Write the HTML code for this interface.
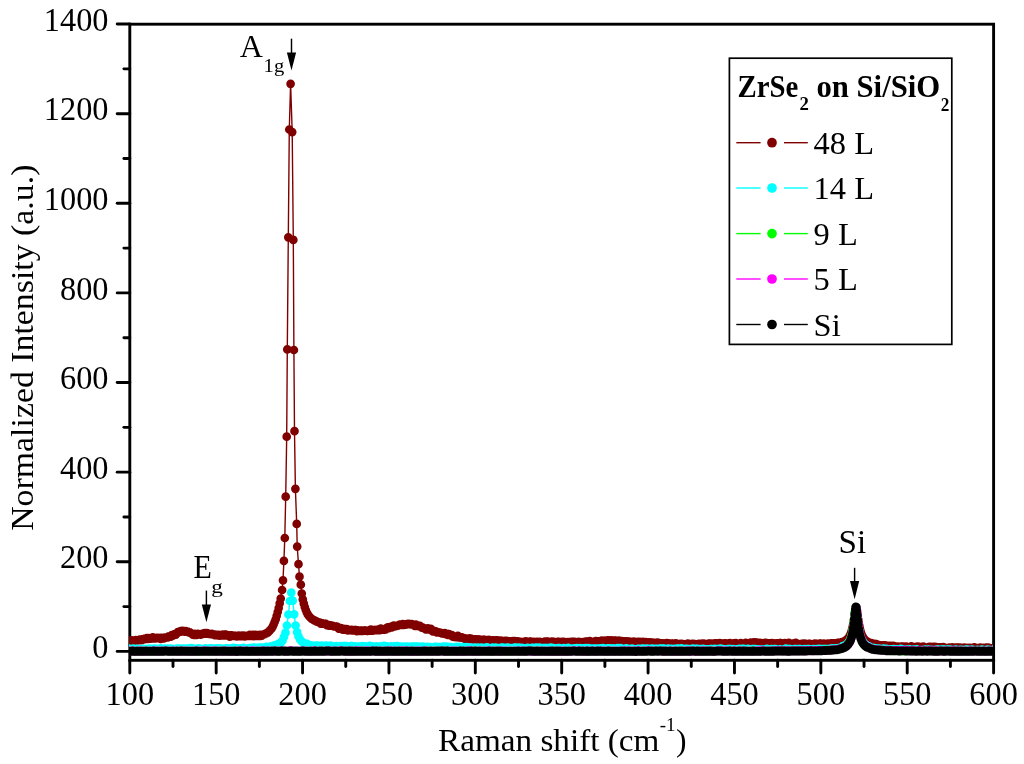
<!DOCTYPE html>
<html><head><meta charset="utf-8"><style>
html,body{margin:0;padding:0;background:#fff;width:1024px;height:764px;overflow:hidden}
svg{display:block;will-change:transform}
text{font-family:"Liberation Serif",serif;fill:#000}
</style></head><body>
<svg width="1024" height="764" viewBox="0 0 1024 764">
<rect width="1024" height="764" fill="#fff"/>
<defs><clipPath id="c"><rect x="129.0" y="24.2" width="864.0" height="636.1"/></clipPath></defs>
<rect x="129.8" y="24.2" width="863.8" height="636.1" fill="none" stroke="#000" stroke-width="2.9"/>
<line x1="117.2" y1="651.40" x2="129.8" y2="651.40" stroke="#000" stroke-width="2.9" stroke-linecap="round"/>
<line x1="123.9" y1="606.59" x2="129.8" y2="606.59" stroke="#000" stroke-width="2.9" stroke-linecap="round"/>
<line x1="117.2" y1="561.78" x2="129.8" y2="561.78" stroke="#000" stroke-width="2.9" stroke-linecap="round"/>
<line x1="123.9" y1="516.97" x2="129.8" y2="516.97" stroke="#000" stroke-width="2.9" stroke-linecap="round"/>
<line x1="117.2" y1="472.16" x2="129.8" y2="472.16" stroke="#000" stroke-width="2.9" stroke-linecap="round"/>
<line x1="123.9" y1="427.35" x2="129.8" y2="427.35" stroke="#000" stroke-width="2.9" stroke-linecap="round"/>
<line x1="117.2" y1="382.54" x2="129.8" y2="382.54" stroke="#000" stroke-width="2.9" stroke-linecap="round"/>
<line x1="123.9" y1="337.73" x2="129.8" y2="337.73" stroke="#000" stroke-width="2.9" stroke-linecap="round"/>
<line x1="117.2" y1="292.92" x2="129.8" y2="292.92" stroke="#000" stroke-width="2.9" stroke-linecap="round"/>
<line x1="123.9" y1="248.11" x2="129.8" y2="248.11" stroke="#000" stroke-width="2.9" stroke-linecap="round"/>
<line x1="117.2" y1="203.30" x2="129.8" y2="203.30" stroke="#000" stroke-width="2.9" stroke-linecap="round"/>
<line x1="123.9" y1="158.49" x2="129.8" y2="158.49" stroke="#000" stroke-width="2.9" stroke-linecap="round"/>
<line x1="117.2" y1="113.68" x2="129.8" y2="113.68" stroke="#000" stroke-width="2.9" stroke-linecap="round"/>
<line x1="123.9" y1="68.87" x2="129.8" y2="68.87" stroke="#000" stroke-width="2.9" stroke-linecap="round"/>
<line x1="117.2" y1="24.06" x2="129.8" y2="24.06" stroke="#000" stroke-width="2.9" stroke-linecap="round"/>
<line x1="129.80" y1="660.3" x2="129.80" y2="673.1" stroke="#000" stroke-width="2.9" stroke-linecap="round"/>
<line x1="172.99" y1="660.3" x2="172.99" y2="666.6" stroke="#000" stroke-width="2.9" stroke-linecap="round"/>
<line x1="216.18" y1="660.3" x2="216.18" y2="673.1" stroke="#000" stroke-width="2.9" stroke-linecap="round"/>
<line x1="259.37" y1="660.3" x2="259.37" y2="666.6" stroke="#000" stroke-width="2.9" stroke-linecap="round"/>
<line x1="302.56" y1="660.3" x2="302.56" y2="673.1" stroke="#000" stroke-width="2.9" stroke-linecap="round"/>
<line x1="345.75" y1="660.3" x2="345.75" y2="666.6" stroke="#000" stroke-width="2.9" stroke-linecap="round"/>
<line x1="388.94" y1="660.3" x2="388.94" y2="673.1" stroke="#000" stroke-width="2.9" stroke-linecap="round"/>
<line x1="432.13" y1="660.3" x2="432.13" y2="666.6" stroke="#000" stroke-width="2.9" stroke-linecap="round"/>
<line x1="475.32" y1="660.3" x2="475.32" y2="673.1" stroke="#000" stroke-width="2.9" stroke-linecap="round"/>
<line x1="518.51" y1="660.3" x2="518.51" y2="666.6" stroke="#000" stroke-width="2.9" stroke-linecap="round"/>
<line x1="561.70" y1="660.3" x2="561.70" y2="673.1" stroke="#000" stroke-width="2.9" stroke-linecap="round"/>
<line x1="604.89" y1="660.3" x2="604.89" y2="666.6" stroke="#000" stroke-width="2.9" stroke-linecap="round"/>
<line x1="648.08" y1="660.3" x2="648.08" y2="673.1" stroke="#000" stroke-width="2.9" stroke-linecap="round"/>
<line x1="691.27" y1="660.3" x2="691.27" y2="666.6" stroke="#000" stroke-width="2.9" stroke-linecap="round"/>
<line x1="734.46" y1="660.3" x2="734.46" y2="673.1" stroke="#000" stroke-width="2.9" stroke-linecap="round"/>
<line x1="777.65" y1="660.3" x2="777.65" y2="666.6" stroke="#000" stroke-width="2.9" stroke-linecap="round"/>
<line x1="820.84" y1="660.3" x2="820.84" y2="673.1" stroke="#000" stroke-width="2.9" stroke-linecap="round"/>
<line x1="864.03" y1="660.3" x2="864.03" y2="666.6" stroke="#000" stroke-width="2.9" stroke-linecap="round"/>
<line x1="907.22" y1="660.3" x2="907.22" y2="673.1" stroke="#000" stroke-width="2.9" stroke-linecap="round"/>
<line x1="950.41" y1="660.3" x2="950.41" y2="666.6" stroke="#000" stroke-width="2.9" stroke-linecap="round"/>
<line x1="993.60" y1="660.3" x2="993.60" y2="673.1" stroke="#000" stroke-width="2.9" stroke-linecap="round"/>
<g clip-path="url(#c)">
<path d="M126.8 641.2L127.8 641.2L128.8 640.9L129.8 640.6L130.8 640.7L131.8 640.4L132.8 640.7L133.8 641.2L134.8 640.3L135.8 640.1L136.8 640.5L137.8 640.4L138.8 640.2L139.8 639.6L140.8 639.9L141.8 640.1L142.8 639.0L143.8 639.3L144.8 638.5L145.8 638.6L146.8 638.2L147.8 638.8L148.8 638.2L149.8 638.7L150.8 638.7L151.8 638.5L152.8 637.4L153.8 638.3L154.8 638.5L155.8 638.5L156.8 637.8L157.8 638.2L158.8 638.0L159.8 638.0L160.8 638.8L161.8 637.8L162.8 638.0L163.8 638.3L164.8 637.5L165.8 637.6L166.8 637.5L167.8 637.4L168.8 636.4L169.8 636.6L170.8 636.7L171.8 635.0L172.8 635.7L173.8 634.9L174.8 634.0L175.8 634.6L176.8 633.5L177.8 632.0L178.8 632.0L179.8 631.8L180.8 631.2L181.8 631.4L182.8 630.8L183.8 631.0L184.8 631.7L185.8 631.0L186.8 631.7L187.8 631.7L188.8 632.4L189.8 632.3L190.8 633.1L191.8 633.7L192.8 634.7L193.8 635.0L194.8 633.9L195.8 634.3L196.8 635.0L197.8 633.9L198.8 634.4L199.8 634.3L200.8 634.7L201.8 634.2L202.8 633.5L203.8 633.3L204.8 633.1L205.8 633.7L206.8 633.0L207.8 633.4L208.8 633.9L209.8 634.0L210.8 634.1L211.8 633.8L212.8 634.4L213.8 634.3L214.8 635.2L215.8 635.0L216.8 634.8L217.8 635.3L218.8 634.9L219.8 635.6L220.8 635.2L221.8 635.5L222.8 634.7L223.8 635.5L224.8 634.7L225.8 634.5L226.8 635.4L227.8 635.1L228.8 635.7L229.8 636.6L230.8 635.3L231.8 635.4L232.8 635.9L233.8 636.0L234.8 635.8L235.8 635.8L236.8 636.3L237.8 636.2L238.8 635.6L239.8 636.1L240.8 636.1L241.8 635.6L242.8 636.1L243.8 635.6L244.8 636.4L245.8 636.0L246.8 635.9L247.8 635.6L248.8 635.8L249.8 634.9L250.8 635.3L251.8 635.9L252.8 634.8L253.8 636.1L254.8 634.9L255.8 636.0L256.8 635.2L257.8 635.9L258.8 635.6L259.8 634.8L260.8 635.8L261.8 635.6L262.8 634.7L263.8 634.3L264.8 634.1L265.7 633.7L266.7 633.2L267.7 632.6L268.7 631.7L269.7 630.6L270.7 629.5L271.7 628.3L272.7 626.6L273.7 624.3L274.7 621.8L275.7 619.3L276.7 615.8L277.7 612.0L278.7 608.1L279.7 603.3L280.7 598.6L282.1 590.0L283.0 580.3L283.9 560.9L284.8 538.0L285.7 496.7L286.7 436.7L287.3 349.4L288.3 237.3L289.3 129.5L290.6 83.8L292.2 132.1L293.3 239.9L293.9 350.0L294.5 431.2L295.4 488.8L296.7 523.9L297.2 546.6L298.5 564.2L299.5 576.7L300.8 584.7L301.8 593.5L302.8 599.4L303.8 603.6L304.8 607.1L305.8 610.0L306.8 612.5L307.8 614.4L308.8 615.8L309.8 617.0L310.8 618.0L311.8 618.8L312.8 619.5L313.8 620.1L314.8 620.6L315.8 621.1L316.8 621.6L317.8 622.0L318.8 622.4L319.8 622.5L320.8 623.6L321.8 623.1L322.8 623.6L323.8 623.6L324.8 623.9L325.8 623.9L326.8 625.2L327.8 624.8L328.8 625.6L329.8 625.4L330.8 625.3L331.8 625.7L332.8 625.8L333.8 626.3L334.8 626.4L335.8 626.7L336.8 626.6L337.8 627.1L338.8 628.6L339.8 627.8L340.8 628.0L341.8 628.9L342.8 629.7L343.8 628.8L344.8 629.6L345.8 629.6L346.8 629.1L347.8 630.3L348.8 630.0L349.8 630.1L350.8 629.8L351.8 630.5L352.8 630.1L353.8 630.3L354.8 630.0L355.8 630.0L356.8 631.2L357.8 630.4L358.8 630.8L359.8 630.8L360.8 630.6L361.8 630.5L362.8 631.0L363.8 630.5L364.8 630.5L365.8 630.6L366.8 631.0L367.8 630.8L368.8 630.6L369.8 630.1L370.8 629.7L371.8 630.7L372.8 630.6L373.8 630.0L374.8 630.2L375.8 630.2L376.8 630.1L377.8 630.0L378.8 629.3L379.8 630.1L380.8 628.7L381.8 629.6L382.8 629.3L383.8 629.3L384.8 629.7L385.8 629.3L386.8 627.8L387.8 627.3L388.8 628.2L389.8 627.1L390.8 627.3L391.8 627.4L392.8 626.1L393.8 625.6L394.8 626.4L395.8 626.1L396.8 625.7L397.8 625.6L398.8 625.0L399.8 624.6L400.8 625.0L401.8 624.5L402.8 624.1L403.8 624.9L404.8 624.5L405.8 624.6L406.8 624.0L407.8 624.1L408.8 623.9L409.8 624.0L410.8 624.5L411.8 624.0L412.8 624.7L413.8 625.0L414.8 626.0L415.8 624.7L416.8 625.9L417.8 625.7L418.8 626.1L419.8 625.9L420.8 626.7L421.8 627.7L422.8 627.7L423.8 628.2L424.8 628.3L425.8 629.3L426.8 629.0L427.8 628.4L428.8 629.4L429.8 629.1L430.8 628.8L431.8 630.4L432.8 631.5L433.8 631.2L434.8 631.0L435.8 631.3L436.8 632.5L437.8 632.3L438.8 632.4L439.8 632.6L440.8 632.9L441.8 633.4L442.8 633.5L443.8 633.6L444.8 633.2L445.8 634.2L446.8 633.8L447.8 634.9L448.8 634.2L449.8 635.0L450.8 635.3L451.8 635.0L452.8 636.7L453.8 636.9L454.8 636.3L455.8 637.1L456.8 637.1L457.8 635.9L458.8 637.4L459.8 637.4L460.8 637.7L461.8 637.3L462.8 637.9L463.8 638.1L464.8 638.9L465.8 638.7L466.8 638.7L467.8 639.4L468.8 638.6L469.8 638.7L470.8 638.5L471.8 639.5L472.8 639.5L473.8 639.5L474.8 639.5L475.8 639.4L476.8 639.6L477.8 639.5L478.8 639.6L479.8 639.7L480.8 640.2L481.8 640.0L482.8 639.9L483.8 639.8L484.8 639.8L485.8 640.6L486.8 640.3L487.8 640.2L488.8 640.2L489.8 640.0L490.8 640.4L491.8 640.7L492.8 640.4L493.8 640.5L494.8 640.6L495.8 640.8L496.8 640.3L497.8 640.7L498.8 640.6L499.8 641.2L500.8 640.7L501.8 641.2L502.8 641.5L503.8 641.0L504.8 640.9L505.8 641.2L506.8 641.2L507.8 641.0L508.8 641.4L509.8 642.0L510.8 641.3L511.8 641.4L512.8 641.2L513.8 641.6L514.8 641.2L515.8 641.3L516.8 642.0L517.8 641.4L518.8 642.1L519.8 642.2L520.8 641.9L521.8 642.0L522.8 642.4L523.8 641.8L524.8 641.7L525.8 641.4L526.8 641.9L527.8 642.3L528.8 642.2L529.8 641.6L530.8 641.6L531.8 641.8L532.8 642.0L533.8 641.9L534.8 642.0L535.8 642.0L536.8 641.9L537.8 642.0L538.8 642.0L539.8 642.0L540.8 642.2L541.8 642.6L542.8 642.2L543.8 642.0L544.8 641.5L545.8 642.2L546.8 641.5L547.8 641.6L548.8 642.3L549.8 642.3L550.8 642.1L551.8 641.6L552.8 642.0L553.8 641.9L554.8 642.3L555.8 642.8L556.8 642.2L557.8 641.9L558.8 641.8L559.8 642.1L560.8 642.1L561.8 641.8L562.8 642.2L563.8 641.8L564.8 642.5L565.8 642.5L566.8 642.5L567.8 642.1L568.8 642.4L569.8 642.2L570.8 642.1L571.8 642.1L572.8 641.9L573.8 641.8L574.8 642.5L575.8 642.2L576.8 642.3L577.8 642.6L578.8 641.8L579.8 642.1L580.8 642.3L581.8 642.3L582.8 642.0L583.8 642.4L584.8 642.1L585.8 641.6L586.8 641.7L587.8 642.1L588.8 642.0L589.8 641.2L590.8 642.2L591.8 641.9L592.8 642.1L593.8 641.5L594.8 641.5L595.8 641.2L596.8 642.2L597.8 641.3L598.8 641.8L599.8 641.1L600.8 641.3L601.8 640.7L602.8 641.0L603.8 641.3L604.8 640.6L605.8 641.2L606.8 640.9L607.8 640.4L608.8 640.5L609.8 640.5L610.8 640.6L611.8 640.6L612.8 640.5L613.8 640.8L614.8 640.6L615.8 640.6L616.8 641.0L617.8 641.4L618.8 640.7L619.8 641.3L620.8 641.1L621.8 641.1L622.8 641.7L623.8 641.3L624.8 642.0L625.8 641.3L626.8 641.7L627.8 641.6L628.8 641.5L629.8 642.0L630.8 641.8L631.8 642.1L632.8 641.9L633.8 641.7L634.8 642.0L635.8 642.1L636.8 642.4L637.8 641.9L638.8 642.2L639.8 641.8L640.8 642.5L641.8 642.1L642.8 641.9L643.8 642.5L644.8 642.9L645.8 642.1L646.8 642.3L647.8 642.5L648.8 642.4L649.8 642.9L650.8 642.6L651.8 642.7L652.8 643.1L653.8 642.8L654.8 643.2L655.8 642.8L656.8 642.8L657.8 642.7L658.8 643.8L659.8 643.2L660.8 643.4L661.8 643.4L662.8 643.5L663.8 643.5L664.8 644.2L665.8 643.3L666.8 643.2L667.8 643.4L668.8 643.4L669.8 644.1L670.8 644.1L671.8 643.7L672.8 643.6L673.8 643.9L674.8 644.5L675.8 643.3L676.8 644.4L677.8 643.9L678.8 644.6L679.8 644.0L680.8 644.3L681.8 643.9L682.8 644.0L683.8 644.7L684.8 644.6L685.8 644.2L686.8 644.0L687.8 643.7L688.8 644.1L689.8 644.2L690.8 644.2L691.8 644.2L692.8 643.8L693.8 644.1L694.8 644.1L695.8 644.5L696.8 644.7L697.8 644.1L698.8 643.9L699.8 644.1L700.8 643.9L701.8 643.8L702.8 644.0L703.8 643.7L704.8 644.2L705.8 644.0L706.8 644.0L707.8 643.9L708.8 643.7L709.8 643.6L710.8 643.8L711.8 643.7L712.8 643.9L713.8 643.9L714.8 643.4L715.8 643.8L716.8 643.4L717.8 643.6L718.8 643.7L719.8 643.1L720.8 643.8L721.8 643.8L722.8 643.7L723.8 643.6L724.8 643.6L725.8 643.4L726.8 643.6L727.8 643.5L728.8 643.6L729.8 643.2L730.8 643.6L731.8 643.6L732.8 643.5L733.8 643.4L734.8 643.7L735.8 643.0L736.8 643.6L737.8 643.5L738.8 643.5L739.8 643.5L740.8 643.2L741.8 643.3L742.8 643.5L743.8 643.5L744.8 643.4L745.8 642.8L746.8 643.4L747.8 643.6L748.8 643.5L749.8 643.3L750.8 642.7L751.8 643.5L752.8 643.1L753.8 642.4L754.8 643.2L755.8 642.7L756.8 642.7L757.8 642.9L758.8 643.4L759.8 642.9L760.8 643.1L761.8 643.6L762.8 643.6L763.8 643.1L764.8 643.1L765.8 642.8L766.8 643.0L767.8 643.3L768.8 643.3L769.8 643.3L770.8 643.5L771.8 643.0L772.8 643.3L773.8 643.5L774.8 643.5L775.8 643.7L776.8 643.5L777.8 643.3L778.8 643.5L779.8 643.1L780.8 643.0L781.8 643.6L782.8 643.5L783.8 643.6L784.8 643.0L785.8 643.4L786.8 643.4L787.8 643.3L788.8 642.9L789.8 643.5L790.8 643.9L791.8 643.8L792.8 643.5L793.8 643.7L794.8 643.9L795.8 642.9L796.8 643.7L797.8 643.9L798.8 644.0L799.8 644.3L800.8 644.1L801.8 643.9L802.8 643.9L803.8 644.1L804.8 643.7L805.8 643.9L806.8 644.2L807.8 644.5L808.8 643.9L809.8 643.9L810.8 644.0L811.8 644.4L812.8 644.0L813.8 644.4L814.8 643.7L815.8 643.9L816.8 643.9L817.8 644.2L818.8 644.3L819.8 643.5L820.8 643.7L821.8 644.1L822.8 643.8L823.8 643.5L824.8 644.3L825.8 644.1L826.8 644.1L827.8 643.7L828.8 644.2L829.8 643.7L830.8 644.1L831.8 643.4L832.8 643.4L833.8 643.6L834.8 643.3L835.8 643.6L836.8 643.3L837.8 642.8L838.8 643.0L839.8 642.6L840.8 642.8L841.8 642.0L842.8 641.8L843.3 642.1L843.8 642.2L844.3 641.3L844.8 641.0L845.3 640.7L845.8 640.4L846.3 640.0L846.8 639.6L847.3 639.1L847.8 638.6L848.3 638.0L848.8 637.4L849.3 636.6L849.8 635.7L850.3 634.7L850.8 633.5L851.3 632.1L851.8 630.4L852.3 628.4L852.8 626.0L853.3 623.3L853.8 620.1L854.3 616.6L854.8 613.1L855.3 610.1L855.8 608.3L856.3 608.1L856.8 609.7L857.3 612.5L857.8 616.0L858.3 619.6L858.8 622.9L859.3 625.7L859.8 628.2L860.3 630.3L860.8 632.1L861.3 633.5L861.8 634.8L862.3 635.9L862.8 636.9L863.3 637.7L863.8 638.4L864.3 639.1L864.8 639.6L865.3 640.1L865.8 640.6L866.3 641.0L866.8 641.4L867.3 641.7L867.8 642.0L868.3 642.9L868.8 642.5L869.3 642.8L869.8 643.4L870.3 643.1L871.3 643.2L872.3 643.8L873.3 644.2L874.3 644.0L875.3 644.0L876.3 644.2L877.3 645.0L878.3 644.8L879.3 645.1L880.3 645.3L881.3 645.5L882.3 645.4L883.3 645.7L884.3 645.4L885.3 645.6L886.3 645.5L887.3 646.2L888.3 646.0L889.3 645.8L890.3 646.0L891.3 646.1L892.3 646.4L893.3 645.8L894.3 646.0L895.3 646.3L896.3 647.2L897.3 646.8L898.3 646.5L899.3 646.8L900.3 647.3L901.3 646.6L902.3 646.6L903.3 647.1L904.3 646.9L905.3 647.0L906.3 646.7L907.3 647.4L908.3 647.4L909.3 647.1L910.3 647.1L911.3 646.3L912.3 647.2L913.3 646.9L914.3 647.2L915.3 647.3L916.3 647.0L917.3 646.6L918.3 647.2L919.3 646.9L920.3 647.1L921.3 647.0L922.3 647.1L923.3 646.5L924.3 647.6L925.3 647.3L926.3 647.6L927.3 647.9L928.3 647.3L929.3 646.8L930.3 647.1L931.3 647.0L932.3 647.2L933.3 647.4L934.3 646.8L935.3 647.6L936.3 647.0L937.3 647.6L938.3 647.5L939.3 647.4L940.3 647.5L941.3 647.4L942.3 647.4L943.3 647.1L944.3 647.6L945.3 648.2L946.3 648.3L947.3 648.1L948.3 647.9L949.3 647.5L950.3 648.2L951.3 647.7L952.3 647.7L953.3 647.7L954.3 647.8L955.3 647.7L956.3 647.8L957.3 647.5L958.3 647.7L959.3 648.5L960.3 647.8L961.3 647.8L962.3 648.0L963.3 648.1L964.3 647.6L965.3 647.8L966.3 648.2L967.3 648.0L968.3 648.0L969.3 648.4L970.3 647.8L971.3 648.0L972.3 647.8L973.3 648.4L974.3 647.4L975.3 647.8L976.3 647.9L977.3 648.2L978.3 648.2L979.3 648.5L980.3 647.6L981.3 648.3L982.3 648.0L983.3 647.9L984.3 648.3L985.3 647.9L986.3 647.5L987.3 648.0L988.3 647.7L989.3 648.0L990.3 648.3L991.3 648.3L992.3 648.7L993.3 648.2L994.3 647.8L995.3 648.0L996.3 648.0" fill="none" stroke="#800000" stroke-width="1.4" stroke-linejoin="round"/>
<path d="M126.8 641.2h0M127.8 641.2h0M128.8 640.9h0M129.8 640.6h0M130.8 640.7h0M131.8 640.4h0M132.8 640.7h0M133.8 641.2h0M134.8 640.3h0M135.8 640.1h0M136.8 640.5h0M137.8 640.4h0M138.8 640.2h0M139.8 639.6h0M140.8 639.9h0M141.8 640.1h0M142.8 639.0h0M143.8 639.3h0M144.8 638.5h0M145.8 638.6h0M146.8 638.2h0M147.8 638.8h0M148.8 638.2h0M149.8 638.7h0M150.8 638.7h0M151.8 638.5h0M152.8 637.4h0M153.8 638.3h0M154.8 638.5h0M155.8 638.5h0M156.8 637.8h0M157.8 638.2h0M158.8 638.0h0M159.8 638.0h0M160.8 638.8h0M161.8 637.8h0M162.8 638.0h0M163.8 638.3h0M164.8 637.5h0M165.8 637.6h0M166.8 637.5h0M167.8 637.4h0M168.8 636.4h0M169.8 636.6h0M170.8 636.7h0M171.8 635.0h0M172.8 635.7h0M173.8 634.9h0M174.8 634.0h0M175.8 634.6h0M176.8 633.5h0M177.8 632.0h0M178.8 632.0h0M179.8 631.8h0M180.8 631.2h0M181.8 631.4h0M182.8 630.8h0M183.8 631.0h0M184.8 631.7h0M185.8 631.0h0M186.8 631.7h0M187.8 631.7h0M188.8 632.4h0M189.8 632.3h0M190.8 633.1h0M191.8 633.7h0M192.8 634.7h0M193.8 635.0h0M194.8 633.9h0M195.8 634.3h0M196.8 635.0h0M197.8 633.9h0M198.8 634.4h0M199.8 634.3h0M200.8 634.7h0M201.8 634.2h0M202.8 633.5h0M203.8 633.3h0M204.8 633.1h0M205.8 633.7h0M206.8 633.0h0M207.8 633.4h0M208.8 633.9h0M209.8 634.0h0M210.8 634.1h0M211.8 633.8h0M212.8 634.4h0M213.8 634.3h0M214.8 635.2h0M215.8 635.0h0M216.8 634.8h0M217.8 635.3h0M218.8 634.9h0M219.8 635.6h0M220.8 635.2h0M221.8 635.5h0M222.8 634.7h0M223.8 635.5h0M224.8 634.7h0M225.8 634.5h0M226.8 635.4h0M227.8 635.1h0M228.8 635.7h0M229.8 636.6h0M230.8 635.3h0M231.8 635.4h0M232.8 635.9h0M233.8 636.0h0M234.8 635.8h0M235.8 635.8h0M236.8 636.3h0M237.8 636.2h0M238.8 635.6h0M239.8 636.1h0M240.8 636.1h0M241.8 635.6h0M242.8 636.1h0M243.8 635.6h0M244.8 636.4h0M245.8 636.0h0M246.8 635.9h0M247.8 635.6h0M248.8 635.8h0M249.8 634.9h0M250.8 635.3h0M251.8 635.9h0M252.8 634.8h0M253.8 636.1h0M254.8 634.9h0M255.8 636.0h0M256.8 635.2h0M257.8 635.9h0M258.8 635.6h0M259.8 634.8h0M260.8 635.8h0M261.8 635.6h0M262.8 634.7h0M263.8 634.3h0M264.8 634.1h0M265.7 633.7h0M266.7 633.2h0M267.7 632.6h0M268.7 631.7h0M269.7 630.6h0M270.7 629.5h0M271.7 628.3h0M272.7 626.6h0M273.7 624.3h0M274.7 621.8h0M275.7 619.3h0M276.7 615.8h0M277.7 612.0h0M278.7 608.1h0M279.7 603.3h0M280.7 598.6h0M282.1 590.0h0M283.0 580.3h0M283.9 560.9h0M284.8 538.0h0M285.7 496.7h0M286.7 436.7h0M287.3 349.4h0M288.3 237.3h0M289.3 129.5h0M290.6 83.8h0M292.2 132.1h0M293.3 239.9h0M293.9 350.0h0M294.5 431.2h0M295.4 488.8h0M296.7 523.9h0M297.2 546.6h0M298.5 564.2h0M299.5 576.7h0M300.8 584.7h0M301.8 593.5h0M302.8 599.4h0M303.8 603.6h0M304.8 607.1h0M305.8 610.0h0M306.8 612.5h0M307.8 614.4h0M308.8 615.8h0M309.8 617.0h0M310.8 618.0h0M311.8 618.8h0M312.8 619.5h0M313.8 620.1h0M314.8 620.6h0M315.8 621.1h0M316.8 621.6h0M317.8 622.0h0M318.8 622.4h0M319.8 622.5h0M320.8 623.6h0M321.8 623.1h0M322.8 623.6h0M323.8 623.6h0M324.8 623.9h0M325.8 623.9h0M326.8 625.2h0M327.8 624.8h0M328.8 625.6h0M329.8 625.4h0M330.8 625.3h0M331.8 625.7h0M332.8 625.8h0M333.8 626.3h0M334.8 626.4h0M335.8 626.7h0M336.8 626.6h0M337.8 627.1h0M338.8 628.6h0M339.8 627.8h0M340.8 628.0h0M341.8 628.9h0M342.8 629.7h0M343.8 628.8h0M344.8 629.6h0M345.8 629.6h0M346.8 629.1h0M347.8 630.3h0M348.8 630.0h0M349.8 630.1h0M350.8 629.8h0M351.8 630.5h0M352.8 630.1h0M353.8 630.3h0M354.8 630.0h0M355.8 630.0h0M356.8 631.2h0M357.8 630.4h0M358.8 630.8h0M359.8 630.8h0M360.8 630.6h0M361.8 630.5h0M362.8 631.0h0M363.8 630.5h0M364.8 630.5h0M365.8 630.6h0M366.8 631.0h0M367.8 630.8h0M368.8 630.6h0M369.8 630.1h0M370.8 629.7h0M371.8 630.7h0M372.8 630.6h0M373.8 630.0h0M374.8 630.2h0M375.8 630.2h0M376.8 630.1h0M377.8 630.0h0M378.8 629.3h0M379.8 630.1h0M380.8 628.7h0M381.8 629.6h0M382.8 629.3h0M383.8 629.3h0M384.8 629.7h0M385.8 629.3h0M386.8 627.8h0M387.8 627.3h0M388.8 628.2h0M389.8 627.1h0M390.8 627.3h0M391.8 627.4h0M392.8 626.1h0M393.8 625.6h0M394.8 626.4h0M395.8 626.1h0M396.8 625.7h0M397.8 625.6h0M398.8 625.0h0M399.8 624.6h0M400.8 625.0h0M401.8 624.5h0M402.8 624.1h0M403.8 624.9h0M404.8 624.5h0M405.8 624.6h0M406.8 624.0h0M407.8 624.1h0M408.8 623.9h0M409.8 624.0h0M410.8 624.5h0M411.8 624.0h0M412.8 624.7h0M413.8 625.0h0M414.8 626.0h0M415.8 624.7h0M416.8 625.9h0M417.8 625.7h0M418.8 626.1h0M419.8 625.9h0M420.8 626.7h0M421.8 627.7h0M422.8 627.7h0M423.8 628.2h0M424.8 628.3h0M425.8 629.3h0M426.8 629.0h0M427.8 628.4h0M428.8 629.4h0M429.8 629.1h0M430.8 628.8h0M431.8 630.4h0M432.8 631.5h0M433.8 631.2h0M434.8 631.0h0M435.8 631.3h0M436.8 632.5h0M437.8 632.3h0M438.8 632.4h0M439.8 632.6h0M440.8 632.9h0M441.8 633.4h0M442.8 633.5h0M443.8 633.6h0M444.8 633.2h0M445.8 634.2h0M446.8 633.8h0M447.8 634.9h0M448.8 634.2h0M449.8 635.0h0M450.8 635.3h0M451.8 635.0h0M452.8 636.7h0M453.8 636.9h0M454.8 636.3h0M455.8 637.1h0M456.8 637.1h0M457.8 635.9h0M458.8 637.4h0M459.8 637.4h0M460.8 637.7h0M461.8 637.3h0M462.8 637.9h0M463.8 638.1h0M464.8 638.9h0M465.8 638.7h0M466.8 638.7h0M467.8 639.4h0M468.8 638.6h0M469.8 638.7h0M470.8 638.5h0M471.8 639.5h0M472.8 639.5h0M473.8 639.5h0M474.8 639.5h0M475.8 639.4h0M476.8 639.6h0M477.8 639.5h0M478.8 639.6h0M479.8 639.7h0M480.8 640.2h0M481.8 640.0h0M482.8 639.9h0M483.8 639.8h0M484.8 639.8h0M485.8 640.6h0M486.8 640.3h0M487.8 640.2h0M488.8 640.2h0M489.8 640.0h0M490.8 640.4h0M491.8 640.7h0M492.8 640.4h0M493.8 640.5h0M494.8 640.6h0M495.8 640.8h0M496.8 640.3h0M497.8 640.7h0M498.8 640.6h0M499.8 641.2h0M500.8 640.7h0M501.8 641.2h0M502.8 641.5h0M503.8 641.0h0M504.8 640.9h0M505.8 641.2h0M506.8 641.2h0M507.8 641.0h0M508.8 641.4h0M509.8 642.0h0M510.8 641.3h0M511.8 641.4h0M512.8 641.2h0M513.8 641.6h0M514.8 641.2h0M515.8 641.3h0M516.8 642.0h0M517.8 641.4h0M518.8 642.1h0M519.8 642.2h0M520.8 641.9h0M521.8 642.0h0M522.8 642.4h0M523.8 641.8h0M524.8 641.7h0M525.8 641.4h0M526.8 641.9h0M527.8 642.3h0M528.8 642.2h0M529.8 641.6h0M530.8 641.6h0M531.8 641.8h0M532.8 642.0h0M533.8 641.9h0M534.8 642.0h0M535.8 642.0h0M536.8 641.9h0M537.8 642.0h0M538.8 642.0h0M539.8 642.0h0M540.8 642.2h0M541.8 642.6h0M542.8 642.2h0M543.8 642.0h0M544.8 641.5h0M545.8 642.2h0M546.8 641.5h0M547.8 641.6h0M548.8 642.3h0M549.8 642.3h0M550.8 642.1h0M551.8 641.6h0M552.8 642.0h0M553.8 641.9h0M554.8 642.3h0M555.8 642.8h0M556.8 642.2h0M557.8 641.9h0M558.8 641.8h0M559.8 642.1h0M560.8 642.1h0M561.8 641.8h0M562.8 642.2h0M563.8 641.8h0M564.8 642.5h0M565.8 642.5h0M566.8 642.5h0M567.8 642.1h0M568.8 642.4h0M569.8 642.2h0M570.8 642.1h0M571.8 642.1h0M572.8 641.9h0M573.8 641.8h0M574.8 642.5h0M575.8 642.2h0M576.8 642.3h0M577.8 642.6h0M578.8 641.8h0M579.8 642.1h0M580.8 642.3h0M581.8 642.3h0M582.8 642.0h0M583.8 642.4h0M584.8 642.1h0M585.8 641.6h0M586.8 641.7h0M587.8 642.1h0M588.8 642.0h0M589.8 641.2h0M590.8 642.2h0M591.8 641.9h0M592.8 642.1h0M593.8 641.5h0M594.8 641.5h0M595.8 641.2h0M596.8 642.2h0M597.8 641.3h0M598.8 641.8h0M599.8 641.1h0M600.8 641.3h0M601.8 640.7h0M602.8 641.0h0M603.8 641.3h0M604.8 640.6h0M605.8 641.2h0M606.8 640.9h0M607.8 640.4h0M608.8 640.5h0M609.8 640.5h0M610.8 640.6h0M611.8 640.6h0M612.8 640.5h0M613.8 640.8h0M614.8 640.6h0M615.8 640.6h0M616.8 641.0h0M617.8 641.4h0M618.8 640.7h0M619.8 641.3h0M620.8 641.1h0M621.8 641.1h0M622.8 641.7h0M623.8 641.3h0M624.8 642.0h0M625.8 641.3h0M626.8 641.7h0M627.8 641.6h0M628.8 641.5h0M629.8 642.0h0M630.8 641.8h0M631.8 642.1h0M632.8 641.9h0M633.8 641.7h0M634.8 642.0h0M635.8 642.1h0M636.8 642.4h0M637.8 641.9h0M638.8 642.2h0M639.8 641.8h0M640.8 642.5h0M641.8 642.1h0M642.8 641.9h0M643.8 642.5h0M644.8 642.9h0M645.8 642.1h0M646.8 642.3h0M647.8 642.5h0M648.8 642.4h0M649.8 642.9h0M650.8 642.6h0M651.8 642.7h0M652.8 643.1h0M653.8 642.8h0M654.8 643.2h0M655.8 642.8h0M656.8 642.8h0M657.8 642.7h0M658.8 643.8h0M659.8 643.2h0M660.8 643.4h0M661.8 643.4h0M662.8 643.5h0M663.8 643.5h0M664.8 644.2h0M665.8 643.3h0M666.8 643.2h0M667.8 643.4h0M668.8 643.4h0M669.8 644.1h0M670.8 644.1h0M671.8 643.7h0M672.8 643.6h0M673.8 643.9h0M674.8 644.5h0M675.8 643.3h0M676.8 644.4h0M677.8 643.9h0M678.8 644.6h0M679.8 644.0h0M680.8 644.3h0M681.8 643.9h0M682.8 644.0h0M683.8 644.7h0M684.8 644.6h0M685.8 644.2h0M686.8 644.0h0M687.8 643.7h0M688.8 644.1h0M689.8 644.2h0M690.8 644.2h0M691.8 644.2h0M692.8 643.8h0M693.8 644.1h0M694.8 644.1h0M695.8 644.5h0M696.8 644.7h0M697.8 644.1h0M698.8 643.9h0M699.8 644.1h0M700.8 643.9h0M701.8 643.8h0M702.8 644.0h0M703.8 643.7h0M704.8 644.2h0M705.8 644.0h0M706.8 644.0h0M707.8 643.9h0M708.8 643.7h0M709.8 643.6h0M710.8 643.8h0M711.8 643.7h0M712.8 643.9h0M713.8 643.9h0M714.8 643.4h0M715.8 643.8h0M716.8 643.4h0M717.8 643.6h0M718.8 643.7h0M719.8 643.1h0M720.8 643.8h0M721.8 643.8h0M722.8 643.7h0M723.8 643.6h0M724.8 643.6h0M725.8 643.4h0M726.8 643.6h0M727.8 643.5h0M728.8 643.6h0M729.8 643.2h0M730.8 643.6h0M731.8 643.6h0M732.8 643.5h0M733.8 643.4h0M734.8 643.7h0M735.8 643.0h0M736.8 643.6h0M737.8 643.5h0M738.8 643.5h0M739.8 643.5h0M740.8 643.2h0M741.8 643.3h0M742.8 643.5h0M743.8 643.5h0M744.8 643.4h0M745.8 642.8h0M746.8 643.4h0M747.8 643.6h0M748.8 643.5h0M749.8 643.3h0M750.8 642.7h0M751.8 643.5h0M752.8 643.1h0M753.8 642.4h0M754.8 643.2h0M755.8 642.7h0M756.8 642.7h0M757.8 642.9h0M758.8 643.4h0M759.8 642.9h0M760.8 643.1h0M761.8 643.6h0M762.8 643.6h0M763.8 643.1h0M764.8 643.1h0M765.8 642.8h0M766.8 643.0h0M767.8 643.3h0M768.8 643.3h0M769.8 643.3h0M770.8 643.5h0M771.8 643.0h0M772.8 643.3h0M773.8 643.5h0M774.8 643.5h0M775.8 643.7h0M776.8 643.5h0M777.8 643.3h0M778.8 643.5h0M779.8 643.1h0M780.8 643.0h0M781.8 643.6h0M782.8 643.5h0M783.8 643.6h0M784.8 643.0h0M785.8 643.4h0M786.8 643.4h0M787.8 643.3h0M788.8 642.9h0M789.8 643.5h0M790.8 643.9h0M791.8 643.8h0M792.8 643.5h0M793.8 643.7h0M794.8 643.9h0M795.8 642.9h0M796.8 643.7h0M797.8 643.9h0M798.8 644.0h0M799.8 644.3h0M800.8 644.1h0M801.8 643.9h0M802.8 643.9h0M803.8 644.1h0M804.8 643.7h0M805.8 643.9h0M806.8 644.2h0M807.8 644.5h0M808.8 643.9h0M809.8 643.9h0M810.8 644.0h0M811.8 644.4h0M812.8 644.0h0M813.8 644.4h0M814.8 643.7h0M815.8 643.9h0M816.8 643.9h0M817.8 644.2h0M818.8 644.3h0M819.8 643.5h0M820.8 643.7h0M821.8 644.1h0M822.8 643.8h0M823.8 643.5h0M824.8 644.3h0M825.8 644.1h0M826.8 644.1h0M827.8 643.7h0M828.8 644.2h0M829.8 643.7h0M830.8 644.1h0M831.8 643.4h0M832.8 643.4h0M833.8 643.6h0M834.8 643.3h0M835.8 643.6h0M836.8 643.3h0M837.8 642.8h0M838.8 643.0h0M839.8 642.6h0M840.8 642.8h0M841.8 642.0h0M842.8 641.8h0M843.3 642.1h0M843.8 642.2h0M844.3 641.3h0M844.8 641.0h0M845.3 640.7h0M845.8 640.4h0M846.3 640.0h0M846.8 639.6h0M847.3 639.1h0M847.8 638.6h0M848.3 638.0h0M848.8 637.4h0M849.3 636.6h0M849.8 635.7h0M850.3 634.7h0M850.8 633.5h0M851.3 632.1h0M851.8 630.4h0M852.3 628.4h0M852.8 626.0h0M853.3 623.3h0M853.8 620.1h0M854.3 616.6h0M854.8 613.1h0M855.3 610.1h0M855.8 608.3h0M856.3 608.1h0M856.8 609.7h0M857.3 612.5h0M857.8 616.0h0M858.3 619.6h0M858.8 622.9h0M859.3 625.7h0M859.8 628.2h0M860.3 630.3h0M860.8 632.1h0M861.3 633.5h0M861.8 634.8h0M862.3 635.9h0M862.8 636.9h0M863.3 637.7h0M863.8 638.4h0M864.3 639.1h0M864.8 639.6h0M865.3 640.1h0M865.8 640.6h0M866.3 641.0h0M866.8 641.4h0M867.3 641.7h0M867.8 642.0h0M868.3 642.9h0M868.8 642.5h0M869.3 642.8h0M869.8 643.4h0M870.3 643.1h0M871.3 643.2h0M872.3 643.8h0M873.3 644.2h0M874.3 644.0h0M875.3 644.0h0M876.3 644.2h0M877.3 645.0h0M878.3 644.8h0M879.3 645.1h0M880.3 645.3h0M881.3 645.5h0M882.3 645.4h0M883.3 645.7h0M884.3 645.4h0M885.3 645.6h0M886.3 645.5h0M887.3 646.2h0M888.3 646.0h0M889.3 645.8h0M890.3 646.0h0M891.3 646.1h0M892.3 646.4h0M893.3 645.8h0M894.3 646.0h0M895.3 646.3h0M896.3 647.2h0M897.3 646.8h0M898.3 646.5h0M899.3 646.8h0M900.3 647.3h0M901.3 646.6h0M902.3 646.6h0M903.3 647.1h0M904.3 646.9h0M905.3 647.0h0M906.3 646.7h0M907.3 647.4h0M908.3 647.4h0M909.3 647.1h0M910.3 647.1h0M911.3 646.3h0M912.3 647.2h0M913.3 646.9h0M914.3 647.2h0M915.3 647.3h0M916.3 647.0h0M917.3 646.6h0M918.3 647.2h0M919.3 646.9h0M920.3 647.1h0M921.3 647.0h0M922.3 647.1h0M923.3 646.5h0M924.3 647.6h0M925.3 647.3h0M926.3 647.6h0M927.3 647.9h0M928.3 647.3h0M929.3 646.8h0M930.3 647.1h0M931.3 647.0h0M932.3 647.2h0M933.3 647.4h0M934.3 646.8h0M935.3 647.6h0M936.3 647.0h0M937.3 647.6h0M938.3 647.5h0M939.3 647.4h0M940.3 647.5h0M941.3 647.4h0M942.3 647.4h0M943.3 647.1h0M944.3 647.6h0M945.3 648.2h0M946.3 648.3h0M947.3 648.1h0M948.3 647.9h0M949.3 647.5h0M950.3 648.2h0M951.3 647.7h0M952.3 647.7h0M953.3 647.7h0M954.3 647.8h0M955.3 647.7h0M956.3 647.8h0M957.3 647.5h0M958.3 647.7h0M959.3 648.5h0M960.3 647.8h0M961.3 647.8h0M962.3 648.0h0M963.3 648.1h0M964.3 647.6h0M965.3 647.8h0M966.3 648.2h0M967.3 648.0h0M968.3 648.0h0M969.3 648.4h0M970.3 647.8h0M971.3 648.0h0M972.3 647.8h0M973.3 648.4h0M974.3 647.4h0M975.3 647.8h0M976.3 647.9h0M977.3 648.2h0M978.3 648.2h0M979.3 648.5h0M980.3 647.6h0M981.3 648.3h0M982.3 648.0h0M983.3 647.9h0M984.3 648.3h0M985.3 647.9h0M986.3 647.5h0M987.3 648.0h0M988.3 647.7h0M989.3 648.0h0M990.3 648.3h0M991.3 648.3h0M992.3 648.7h0M993.3 648.2h0M994.3 647.8h0M995.3 648.0h0M996.3 648.0h0" fill="none" stroke="#800000" stroke-width="8.70" stroke-linecap="round"/>
<path d="M128.9 648.7L130.3 649.1L131.8 648.8L133.2 648.5L134.7 649.1L136.1 648.9L137.6 649.0L139.0 649.0L140.5 649.1L141.9 648.9L143.4 649.2L144.8 649.0L146.3 649.0L147.7 649.0L149.2 648.5L150.6 648.9L152.1 648.8L153.5 648.9L155.0 648.5L156.4 649.3L157.9 648.9L159.3 648.6L160.8 648.4L162.2 648.8L163.7 648.8L165.1 648.7L166.6 648.9L168.0 648.7L169.5 649.0L170.9 648.6L172.4 648.8L173.8 649.1L175.3 649.5L176.7 648.6L178.2 648.7L179.6 648.6L181.1 649.0L182.5 648.5L184.0 648.7L185.4 648.8L186.9 648.5L188.3 648.5L189.8 648.6L191.2 648.2L192.7 648.4L194.1 648.6L195.6 648.8L197.0 648.7L198.5 648.3L199.9 648.6L201.4 648.9L202.8 648.8L204.3 648.7L205.7 648.4L207.2 648.8L208.6 648.5L210.1 648.3L211.5 648.4L213.0 649.0L214.4 648.6L215.9 648.9L217.3 648.4L218.8 648.8L220.2 648.4L221.7 648.5L223.1 649.1L224.6 648.7L226.0 648.3L227.5 648.4L228.9 648.5L230.4 648.7L231.8 648.2L233.3 647.9L234.7 648.3L236.2 648.3L237.6 648.3L239.1 648.6L240.5 648.3L242.0 648.4L243.4 647.9L244.9 648.4L246.3 648.6L247.8 648.3L249.2 648.1L250.7 648.0L252.1 648.4L253.6 647.7L255.0 647.8L256.5 647.9L257.9 647.9L259.4 647.6L260.8 647.7L262.3 647.5L263.7 647.5L265.2 647.3L266.6 646.9L268.1 647.0L269.5 647.1L271.0 646.4L272.4 646.2L273.9 646.1L275.3 645.2L276.8 644.9L278.2 643.9L279.7 643.4L281.1 642.4L282.6 640.4L284.0 636.9L285.5 632.7L286.9 625.5L288.4 614.5L289.8 601.0L291.3 592.6L292.7 600.7L294.2 614.3L295.6 625.5L297.1 632.2L298.5 636.3L300.0 639.3L301.4 641.2L302.9 642.3L304.3 643.4L305.8 643.8L307.2 643.8L308.7 645.0L310.1 645.2L311.6 645.3L313.0 645.5L314.5 645.8L315.9 645.6L317.4 645.6L318.8 645.8L320.3 646.2L321.7 645.6L323.2 646.3L324.6 645.8L326.1 645.7L327.5 646.3L329.0 646.0L330.4 645.7L331.9 646.0L333.3 646.3L334.8 646.4L336.2 646.0L337.7 646.3L339.1 646.4L340.6 646.0L342.0 646.3L343.5 646.2L344.9 646.1L346.4 646.1L347.8 646.3L349.3 646.3L350.7 646.2L352.2 646.2L353.6 646.6L355.1 646.4L356.5 646.6L358.0 646.6L359.4 646.5L360.9 646.9L362.3 646.2L363.8 646.6L365.2 646.3L366.7 646.8L368.1 646.8L369.6 645.9L371.0 646.2L372.5 646.6L373.9 646.6L375.4 646.6L376.8 646.4L378.3 646.6L379.7 646.6L381.2 646.5L382.6 646.7L384.1 645.9L385.5 646.7L387.0 646.3L388.4 646.8L389.9 646.5L391.3 646.3L392.8 646.7L394.2 646.3L395.7 646.4L397.1 646.2L398.6 646.6L400.0 646.7L401.5 646.9L402.9 646.6L404.4 646.9L405.8 646.7L407.3 646.6L408.7 646.8L410.2 647.0L411.6 646.6L413.1 646.6L414.5 646.7L416.0 646.7L417.4 646.5L418.9 647.0L420.3 646.7L421.8 646.9L423.2 646.6L424.7 646.9L426.1 647.0L427.6 646.8L429.0 647.4L430.5 647.0L431.9 647.4L433.4 647.2L434.8 646.8L436.3 646.9L437.7 647.2L439.2 647.1L440.6 647.1L442.1 647.1L443.5 646.7L445.0 647.1L446.4 646.7L447.9 647.3L449.3 647.1L450.8 647.1L452.2 647.3L453.7 647.4L455.1 647.0L456.6 646.9L458.0 647.1L459.5 646.9L460.9 647.2L462.4 647.9L463.8 647.2L465.3 647.7L466.7 647.2L468.2 647.7L469.6 647.5L471.1 647.6L472.5 647.8L474.0 648.1L475.4 647.7L476.9 647.8L478.3 647.5L479.8 647.9L481.2 647.7L482.7 648.0L484.1 647.8L485.6 648.2L487.0 647.3L488.5 647.8L489.9 648.1L491.4 647.8L492.8 647.7L494.3 647.8L495.7 647.5L497.2 647.9L498.6 648.5L500.1 648.2L501.5 647.6L503.0 647.7L504.4 647.8L505.9 648.2L507.3 647.7L508.8 647.8L510.2 648.2L511.7 648.2L513.1 647.9L514.6 647.7L516.0 647.6L517.5 647.8L518.9 647.5L520.4 648.2L521.8 647.9L523.3 648.2L524.7 648.5L526.2 648.4L527.6 647.8L529.1 648.3L530.5 648.4L532.0 647.9L533.4 647.9L534.9 648.1L536.3 647.7L537.8 648.5L539.2 647.5L540.7 647.9L542.1 648.1L543.6 648.1L545.0 648.2L546.5 648.2L547.9 648.1L549.4 648.5L550.8 647.7L552.3 648.2L553.7 648.0L555.2 648.3L556.6 648.3L558.1 648.0L559.5 648.1L561.0 648.5L562.4 648.4L563.9 648.1L565.3 648.8L566.8 648.9L568.2 647.9L569.7 648.4L571.1 649.0L572.6 648.5L574.0 648.4L575.5 648.3L576.9 648.2L578.4 648.3L579.8 648.2L581.3 648.6L582.7 648.3L584.2 648.3L585.6 648.1L587.1 648.4L588.5 648.2L590.0 648.4L591.4 648.7L592.9 648.6L594.3 648.6L595.8 648.6L597.2 648.5L598.7 648.5L600.1 648.4L601.6 648.7L603.0 648.2L604.5 648.9L605.9 648.5L607.4 648.4L608.9 648.4L610.3 648.4L611.8 648.6L613.2 648.4L614.7 648.9L616.1 648.4L617.6 648.0L619.0 648.4L620.5 648.1L621.9 648.6L623.4 648.9L624.8 648.8L626.3 648.3L627.7 648.5L629.2 649.1L630.6 648.8L632.1 648.7L633.5 649.0L635.0 649.3L636.4 649.0L637.9 648.8L639.3 648.8L640.8 648.9L642.2 648.6L643.7 648.5L645.1 648.8L646.6 648.5L648.0 648.8L649.5 648.8L650.9 649.4L652.4 648.6L653.8 648.8L655.3 648.8L656.7 648.9L658.2 649.1L659.6 648.7L661.1 648.7L662.5 648.5L664.0 648.6L665.4 649.0L666.9 648.9L668.3 648.7L669.8 648.8L671.2 648.9L672.7 649.1L674.1 648.8L675.6 648.9L677.0 648.5L678.5 648.7L679.9 649.4L681.4 648.4L682.8 648.9L684.3 649.0L685.7 648.9L687.2 648.8L688.6 649.0L690.1 649.0L691.5 649.0L693.0 648.6L694.4 649.0L695.9 648.8L697.3 648.9L698.8 649.1L700.2 649.2L701.7 649.3L703.1 648.9L704.6 649.3L706.0 649.4L707.5 649.4L708.9 649.4L710.4 649.1L711.8 649.1L713.3 649.3L714.7 648.8L716.2 649.2L717.6 649.0L719.1 649.0L720.5 648.7L722.0 648.9L723.4 649.1L724.9 649.4L726.3 649.4L727.8 649.1L729.2 649.1L730.7 649.0L732.1 649.3L733.6 649.1L735.0 649.3L736.5 649.6L737.9 649.2L739.4 648.8L740.8 649.0L742.3 648.8L743.7 648.9L745.2 649.5L746.6 649.3L748.1 648.8L749.5 649.4L751.0 649.5L752.4 649.1L753.9 649.1L755.3 649.2L756.8 649.3L758.2 649.4L759.7 649.5L761.1 649.6L762.6 649.6L764.0 649.6L765.5 649.4L766.9 648.9L768.4 649.2L769.8 649.4L771.3 649.2L772.7 649.5L774.2 649.2L775.6 649.1L777.1 649.7L778.5 649.5L780.0 649.3L781.4 649.5L782.9 649.6L784.3 649.4L785.8 648.7L787.2 649.1L788.7 649.2L790.1 649.1L791.6 649.3L793.0 649.6L794.5 649.2L795.9 649.0L797.4 649.8L798.8 649.2L800.3 649.0L801.7 649.3L803.2 649.4L804.6 649.1L806.1 649.5L807.5 649.1L809.0 649.0L810.4 649.3L811.9 649.4L813.3 649.0L814.8 649.3L816.2 649.1L817.7 649.8L819.1 648.9L820.6 649.4L822.0 649.0L823.5 649.0L824.9 649.1L826.4 649.1L827.8 649.1L829.3 648.8L830.7 648.5L832.2 648.4L833.6 648.5L835.1 648.4L836.5 648.4L838.0 648.0L839.4 647.8L840.9 647.6L842.3 646.8L842.8 646.2L843.3 646.1L843.8 645.8L844.3 645.9L844.8 645.6L845.3 645.3L845.8 645.0L846.3 644.6L846.8 644.2L847.3 643.8L847.8 643.2L848.3 642.7L848.8 642.0L849.3 641.2L849.8 640.3L850.3 639.3L850.8 638.1L851.3 636.6L851.8 634.9L852.3 632.7L852.8 630.1L853.3 627.0L853.8 623.2L854.3 618.7L854.8 614.0L855.3 609.9L855.8 607.5L856.3 607.8L856.8 610.7L857.3 615.0L857.8 619.7L858.3 624.0L858.8 627.7L859.3 630.7L859.8 633.2L860.3 635.3L860.8 637.0L861.3 638.4L861.8 639.5L862.3 640.6L862.8 641.4L863.3 642.2L863.8 642.8L864.3 643.4L864.8 643.9L865.3 644.4L865.8 644.8L866.3 645.2L866.8 645.5L867.3 645.8L867.8 646.1L868.3 646.7L868.8 646.3L869.3 647.0L869.8 647.1L870.3 647.5L871.8 647.7L873.2 647.8L874.7 648.1L876.1 648.3L877.6 648.5L879.0 648.5L880.5 648.8L881.9 649.3L883.4 648.6L884.8 649.1L886.3 648.9L887.7 649.3L889.2 649.5L890.6 649.3L892.1 649.6L893.5 649.0L895.0 649.7L896.4 649.3L897.9 649.7L899.3 649.6L900.8 648.9L902.2 649.4L903.7 649.7L905.1 650.0L906.6 649.7L908.0 649.7L909.5 649.3L910.9 650.1L912.4 650.2L913.8 649.7L915.3 649.7L916.7 649.4L918.2 650.0L919.6 650.5L921.1 650.0L922.5 650.1L924.0 649.9L925.4 649.6L926.9 650.2L928.3 649.5L929.8 649.8L931.2 649.9L932.7 650.1L934.1 650.0L935.6 650.0L937.0 649.7L938.5 649.6L939.9 649.9L941.4 649.7L942.8 649.6L944.3 649.6L945.7 649.8L947.2 649.5L948.6 649.6L950.1 649.5L951.5 650.0L953.0 650.0L954.4 650.4L955.9 649.6L957.3 649.8L958.8 650.2L960.2 649.9L961.7 649.9L963.1 650.4L964.6 649.9L966.0 649.7L967.5 649.7L968.9 650.1L970.4 650.1L971.8 649.7L973.3 649.8L974.7 650.1L976.2 650.2L977.6 649.9L979.1 650.2L980.5 650.2L982.0 649.6L983.4 650.0L984.9 650.1L986.3 649.9L987.8 649.5L989.2 650.0L990.7 650.2L992.1 650.4L993.6 649.5L995.0 650.7L996.5 649.8" fill="none" stroke="#00ffff" stroke-width="1.4" stroke-linejoin="round"/>
<path d="M128.9 648.7h0M130.3 649.1h0M131.8 648.8h0M133.2 648.5h0M134.7 649.1h0M136.1 648.9h0M137.6 649.0h0M139.0 649.0h0M140.5 649.1h0M141.9 648.9h0M143.4 649.2h0M144.8 649.0h0M146.3 649.0h0M147.7 649.0h0M149.2 648.5h0M150.6 648.9h0M152.1 648.8h0M153.5 648.9h0M155.0 648.5h0M156.4 649.3h0M157.9 648.9h0M159.3 648.6h0M160.8 648.4h0M162.2 648.8h0M163.7 648.8h0M165.1 648.7h0M166.6 648.9h0M168.0 648.7h0M169.5 649.0h0M170.9 648.6h0M172.4 648.8h0M173.8 649.1h0M175.3 649.5h0M176.7 648.6h0M178.2 648.7h0M179.6 648.6h0M181.1 649.0h0M182.5 648.5h0M184.0 648.7h0M185.4 648.8h0M186.9 648.5h0M188.3 648.5h0M189.8 648.6h0M191.2 648.2h0M192.7 648.4h0M194.1 648.6h0M195.6 648.8h0M197.0 648.7h0M198.5 648.3h0M199.9 648.6h0M201.4 648.9h0M202.8 648.8h0M204.3 648.7h0M205.7 648.4h0M207.2 648.8h0M208.6 648.5h0M210.1 648.3h0M211.5 648.4h0M213.0 649.0h0M214.4 648.6h0M215.9 648.9h0M217.3 648.4h0M218.8 648.8h0M220.2 648.4h0M221.7 648.5h0M223.1 649.1h0M224.6 648.7h0M226.0 648.3h0M227.5 648.4h0M228.9 648.5h0M230.4 648.7h0M231.8 648.2h0M233.3 647.9h0M234.7 648.3h0M236.2 648.3h0M237.6 648.3h0M239.1 648.6h0M240.5 648.3h0M242.0 648.4h0M243.4 647.9h0M244.9 648.4h0M246.3 648.6h0M247.8 648.3h0M249.2 648.1h0M250.7 648.0h0M252.1 648.4h0M253.6 647.7h0M255.0 647.8h0M256.5 647.9h0M257.9 647.9h0M259.4 647.6h0M260.8 647.7h0M262.3 647.5h0M263.7 647.5h0M265.2 647.3h0M266.6 646.9h0M268.1 647.0h0M269.5 647.1h0M271.0 646.4h0M272.4 646.2h0M273.9 646.1h0M275.3 645.2h0M276.8 644.9h0M278.2 643.9h0M279.7 643.4h0M281.1 642.4h0M282.6 640.4h0M284.0 636.9h0M285.5 632.7h0M286.9 625.5h0M288.4 614.5h0M289.8 601.0h0M291.3 592.6h0M292.7 600.7h0M294.2 614.3h0M295.6 625.5h0M297.1 632.2h0M298.5 636.3h0M300.0 639.3h0M301.4 641.2h0M302.9 642.3h0M304.3 643.4h0M305.8 643.8h0M307.2 643.8h0M308.7 645.0h0M310.1 645.2h0M311.6 645.3h0M313.0 645.5h0M314.5 645.8h0M315.9 645.6h0M317.4 645.6h0M318.8 645.8h0M320.3 646.2h0M321.7 645.6h0M323.2 646.3h0M324.6 645.8h0M326.1 645.7h0M327.5 646.3h0M329.0 646.0h0M330.4 645.7h0M331.9 646.0h0M333.3 646.3h0M334.8 646.4h0M336.2 646.0h0M337.7 646.3h0M339.1 646.4h0M340.6 646.0h0M342.0 646.3h0M343.5 646.2h0M344.9 646.1h0M346.4 646.1h0M347.8 646.3h0M349.3 646.3h0M350.7 646.2h0M352.2 646.2h0M353.6 646.6h0M355.1 646.4h0M356.5 646.6h0M358.0 646.6h0M359.4 646.5h0M360.9 646.9h0M362.3 646.2h0M363.8 646.6h0M365.2 646.3h0M366.7 646.8h0M368.1 646.8h0M369.6 645.9h0M371.0 646.2h0M372.5 646.6h0M373.9 646.6h0M375.4 646.6h0M376.8 646.4h0M378.3 646.6h0M379.7 646.6h0M381.2 646.5h0M382.6 646.7h0M384.1 645.9h0M385.5 646.7h0M387.0 646.3h0M388.4 646.8h0M389.9 646.5h0M391.3 646.3h0M392.8 646.7h0M394.2 646.3h0M395.7 646.4h0M397.1 646.2h0M398.6 646.6h0M400.0 646.7h0M401.5 646.9h0M402.9 646.6h0M404.4 646.9h0M405.8 646.7h0M407.3 646.6h0M408.7 646.8h0M410.2 647.0h0M411.6 646.6h0M413.1 646.6h0M414.5 646.7h0M416.0 646.7h0M417.4 646.5h0M418.9 647.0h0M420.3 646.7h0M421.8 646.9h0M423.2 646.6h0M424.7 646.9h0M426.1 647.0h0M427.6 646.8h0M429.0 647.4h0M430.5 647.0h0M431.9 647.4h0M433.4 647.2h0M434.8 646.8h0M436.3 646.9h0M437.7 647.2h0M439.2 647.1h0M440.6 647.1h0M442.1 647.1h0M443.5 646.7h0M445.0 647.1h0M446.4 646.7h0M447.9 647.3h0M449.3 647.1h0M450.8 647.1h0M452.2 647.3h0M453.7 647.4h0M455.1 647.0h0M456.6 646.9h0M458.0 647.1h0M459.5 646.9h0M460.9 647.2h0M462.4 647.9h0M463.8 647.2h0M465.3 647.7h0M466.7 647.2h0M468.2 647.7h0M469.6 647.5h0M471.1 647.6h0M472.5 647.8h0M474.0 648.1h0M475.4 647.7h0M476.9 647.8h0M478.3 647.5h0M479.8 647.9h0M481.2 647.7h0M482.7 648.0h0M484.1 647.8h0M485.6 648.2h0M487.0 647.3h0M488.5 647.8h0M489.9 648.1h0M491.4 647.8h0M492.8 647.7h0M494.3 647.8h0M495.7 647.5h0M497.2 647.9h0M498.6 648.5h0M500.1 648.2h0M501.5 647.6h0M503.0 647.7h0M504.4 647.8h0M505.9 648.2h0M507.3 647.7h0M508.8 647.8h0M510.2 648.2h0M511.7 648.2h0M513.1 647.9h0M514.6 647.7h0M516.0 647.6h0M517.5 647.8h0M518.9 647.5h0M520.4 648.2h0M521.8 647.9h0M523.3 648.2h0M524.7 648.5h0M526.2 648.4h0M527.6 647.8h0M529.1 648.3h0M530.5 648.4h0M532.0 647.9h0M533.4 647.9h0M534.9 648.1h0M536.3 647.7h0M537.8 648.5h0M539.2 647.5h0M540.7 647.9h0M542.1 648.1h0M543.6 648.1h0M545.0 648.2h0M546.5 648.2h0M547.9 648.1h0M549.4 648.5h0M550.8 647.7h0M552.3 648.2h0M553.7 648.0h0M555.2 648.3h0M556.6 648.3h0M558.1 648.0h0M559.5 648.1h0M561.0 648.5h0M562.4 648.4h0M563.9 648.1h0M565.3 648.8h0M566.8 648.9h0M568.2 647.9h0M569.7 648.4h0M571.1 649.0h0M572.6 648.5h0M574.0 648.4h0M575.5 648.3h0M576.9 648.2h0M578.4 648.3h0M579.8 648.2h0M581.3 648.6h0M582.7 648.3h0M584.2 648.3h0M585.6 648.1h0M587.1 648.4h0M588.5 648.2h0M590.0 648.4h0M591.4 648.7h0M592.9 648.6h0M594.3 648.6h0M595.8 648.6h0M597.2 648.5h0M598.7 648.5h0M600.1 648.4h0M601.6 648.7h0M603.0 648.2h0M604.5 648.9h0M605.9 648.5h0M607.4 648.4h0M608.9 648.4h0M610.3 648.4h0M611.8 648.6h0M613.2 648.4h0M614.7 648.9h0M616.1 648.4h0M617.6 648.0h0M619.0 648.4h0M620.5 648.1h0M621.9 648.6h0M623.4 648.9h0M624.8 648.8h0M626.3 648.3h0M627.7 648.5h0M629.2 649.1h0M630.6 648.8h0M632.1 648.7h0M633.5 649.0h0M635.0 649.3h0M636.4 649.0h0M637.9 648.8h0M639.3 648.8h0M640.8 648.9h0M642.2 648.6h0M643.7 648.5h0M645.1 648.8h0M646.6 648.5h0M648.0 648.8h0M649.5 648.8h0M650.9 649.4h0M652.4 648.6h0M653.8 648.8h0M655.3 648.8h0M656.7 648.9h0M658.2 649.1h0M659.6 648.7h0M661.1 648.7h0M662.5 648.5h0M664.0 648.6h0M665.4 649.0h0M666.9 648.9h0M668.3 648.7h0M669.8 648.8h0M671.2 648.9h0M672.7 649.1h0M674.1 648.8h0M675.6 648.9h0M677.0 648.5h0M678.5 648.7h0M679.9 649.4h0M681.4 648.4h0M682.8 648.9h0M684.3 649.0h0M685.7 648.9h0M687.2 648.8h0M688.6 649.0h0M690.1 649.0h0M691.5 649.0h0M693.0 648.6h0M694.4 649.0h0M695.9 648.8h0M697.3 648.9h0M698.8 649.1h0M700.2 649.2h0M701.7 649.3h0M703.1 648.9h0M704.6 649.3h0M706.0 649.4h0M707.5 649.4h0M708.9 649.4h0M710.4 649.1h0M711.8 649.1h0M713.3 649.3h0M714.7 648.8h0M716.2 649.2h0M717.6 649.0h0M719.1 649.0h0M720.5 648.7h0M722.0 648.9h0M723.4 649.1h0M724.9 649.4h0M726.3 649.4h0M727.8 649.1h0M729.2 649.1h0M730.7 649.0h0M732.1 649.3h0M733.6 649.1h0M735.0 649.3h0M736.5 649.6h0M737.9 649.2h0M739.4 648.8h0M740.8 649.0h0M742.3 648.8h0M743.7 648.9h0M745.2 649.5h0M746.6 649.3h0M748.1 648.8h0M749.5 649.4h0M751.0 649.5h0M752.4 649.1h0M753.9 649.1h0M755.3 649.2h0M756.8 649.3h0M758.2 649.4h0M759.7 649.5h0M761.1 649.6h0M762.6 649.6h0M764.0 649.6h0M765.5 649.4h0M766.9 648.9h0M768.4 649.2h0M769.8 649.4h0M771.3 649.2h0M772.7 649.5h0M774.2 649.2h0M775.6 649.1h0M777.1 649.7h0M778.5 649.5h0M780.0 649.3h0M781.4 649.5h0M782.9 649.6h0M784.3 649.4h0M785.8 648.7h0M787.2 649.1h0M788.7 649.2h0M790.1 649.1h0M791.6 649.3h0M793.0 649.6h0M794.5 649.2h0M795.9 649.0h0M797.4 649.8h0M798.8 649.2h0M800.3 649.0h0M801.7 649.3h0M803.2 649.4h0M804.6 649.1h0M806.1 649.5h0M807.5 649.1h0M809.0 649.0h0M810.4 649.3h0M811.9 649.4h0M813.3 649.0h0M814.8 649.3h0M816.2 649.1h0M817.7 649.8h0M819.1 648.9h0M820.6 649.4h0M822.0 649.0h0M823.5 649.0h0M824.9 649.1h0M826.4 649.1h0M827.8 649.1h0M829.3 648.8h0M830.7 648.5h0M832.2 648.4h0M833.6 648.5h0M835.1 648.4h0M836.5 648.4h0M838.0 648.0h0M839.4 647.8h0M840.9 647.6h0M842.3 646.8h0M842.8 646.2h0M843.3 646.1h0M843.8 645.8h0M844.3 645.9h0M844.8 645.6h0M845.3 645.3h0M845.8 645.0h0M846.3 644.6h0M846.8 644.2h0M847.3 643.8h0M847.8 643.2h0M848.3 642.7h0M848.8 642.0h0M849.3 641.2h0M849.8 640.3h0M850.3 639.3h0M850.8 638.1h0M851.3 636.6h0M851.8 634.9h0M852.3 632.7h0M852.8 630.1h0M853.3 627.0h0M853.8 623.2h0M854.3 618.7h0M854.8 614.0h0M855.3 609.9h0M855.8 607.5h0M856.3 607.8h0M856.8 610.7h0M857.3 615.0h0M857.8 619.7h0M858.3 624.0h0M858.8 627.7h0M859.3 630.7h0M859.8 633.2h0M860.3 635.3h0M860.8 637.0h0M861.3 638.4h0M861.8 639.5h0M862.3 640.6h0M862.8 641.4h0M863.3 642.2h0M863.8 642.8h0M864.3 643.4h0M864.8 643.9h0M865.3 644.4h0M865.8 644.8h0M866.3 645.2h0M866.8 645.5h0M867.3 645.8h0M867.8 646.1h0M868.3 646.7h0M868.8 646.3h0M869.3 647.0h0M869.8 647.1h0M870.3 647.5h0M871.8 647.7h0M873.2 647.8h0M874.7 648.1h0M876.1 648.3h0M877.6 648.5h0M879.0 648.5h0M880.5 648.8h0M881.9 649.3h0M883.4 648.6h0M884.8 649.1h0M886.3 648.9h0M887.7 649.3h0M889.2 649.5h0M890.6 649.3h0M892.1 649.6h0M893.5 649.0h0M895.0 649.7h0M896.4 649.3h0M897.9 649.7h0M899.3 649.6h0M900.8 648.9h0M902.2 649.4h0M903.7 649.7h0M905.1 650.0h0M906.6 649.7h0M908.0 649.7h0M909.5 649.3h0M910.9 650.1h0M912.4 650.2h0M913.8 649.7h0M915.3 649.7h0M916.7 649.4h0M918.2 650.0h0M919.6 650.5h0M921.1 650.0h0M922.5 650.1h0M924.0 649.9h0M925.4 649.6h0M926.9 650.2h0M928.3 649.5h0M929.8 649.8h0M931.2 649.9h0M932.7 650.1h0M934.1 650.0h0M935.6 650.0h0M937.0 649.7h0M938.5 649.6h0M939.9 649.9h0M941.4 649.7h0M942.8 649.6h0M944.3 649.6h0M945.7 649.8h0M947.2 649.5h0M948.6 649.6h0M950.1 649.5h0M951.5 650.0h0M953.0 650.0h0M954.4 650.4h0M955.9 649.6h0M957.3 649.8h0M958.8 650.2h0M960.2 649.9h0M961.7 649.9h0M963.1 650.4h0M964.6 649.9h0M966.0 649.7h0M967.5 649.7h0M968.9 650.1h0M970.4 650.1h0M971.8 649.7h0M973.3 649.8h0M974.7 650.1h0M976.2 650.2h0M977.6 649.9h0M979.1 650.2h0M980.5 650.2h0M982.0 649.6h0M983.4 650.0h0M984.9 650.1h0M986.3 649.9h0M987.8 649.5h0M989.2 650.0h0M990.7 650.2h0M992.1 650.4h0M993.6 649.5h0M995.0 650.7h0M996.5 649.8h0" fill="none" stroke="#00ffff" stroke-width="8.70" stroke-linecap="round"/>
<path d="M126.8 651.1L127.8 651.1L128.8 651.1L129.8 651.0L130.8 650.8L131.8 651.0L132.8 650.9L133.8 650.6L134.8 651.3L135.8 651.0L136.8 651.2L137.8 650.8L138.8 651.1L139.8 651.1L140.8 651.1L141.8 650.9L142.8 650.8L143.8 650.9L144.8 650.7L145.8 650.7L146.8 651.0L147.8 650.8L148.8 650.9L149.8 650.9L150.8 651.2L151.8 651.1L152.8 650.9L153.8 651.1L154.8 650.9L155.8 650.9L156.8 651.1L157.8 650.8L158.8 650.9L159.8 650.8L160.8 651.0L161.8 651.1L162.8 650.9L163.8 651.0L164.8 650.8L165.8 650.8L166.8 650.8L167.8 651.1L168.8 651.2L169.8 651.0L170.8 650.9L171.8 651.0L172.8 650.9L173.8 651.0L174.8 651.0L175.8 651.0L176.8 651.0L177.8 650.9L178.8 650.9L179.8 650.7L180.8 650.9L181.8 650.8L182.8 650.9L183.8 650.8L184.8 651.0L185.8 651.0L186.8 650.8L187.8 650.9L188.8 650.8L189.8 651.0L190.8 651.2L191.8 651.1L192.8 650.9L193.8 651.1L194.8 650.8L195.8 651.1L196.8 650.9L197.8 650.6L198.8 651.3L199.8 651.1L200.8 650.8L201.8 651.0L202.8 650.9L203.8 651.0L204.8 650.8L205.8 650.9L206.8 651.0L207.8 651.0L208.8 651.1L209.8 651.0L210.8 651.2L211.8 650.9L212.8 651.0L213.8 650.7L214.8 650.8L215.8 651.1L216.8 650.8L217.8 651.0L218.8 650.9L219.8 650.8L220.8 650.9L221.8 650.9L222.8 650.9L223.8 651.0L224.8 651.0L225.8 650.9L226.8 650.8L227.8 651.0L228.8 650.9L229.8 651.1L230.8 651.3L231.8 651.0L232.8 650.9L233.8 650.9L234.8 650.8L235.8 650.8L236.8 650.8L237.8 650.9L238.8 650.9L239.8 651.0L240.8 650.9L241.8 650.9L242.8 650.8L243.8 651.1L244.8 651.0L245.8 651.2L246.8 651.0L247.8 651.1L248.8 650.9L249.8 651.0L250.8 651.3L251.8 650.8L252.8 651.1L253.8 651.2L254.8 651.0L255.8 651.0L256.8 651.1L257.8 650.9L258.8 651.0L259.8 650.8L260.8 650.9L261.8 650.9L262.8 650.9L263.8 651.0L264.8 651.0L265.8 650.8L266.8 651.2L267.8 651.1L268.8 651.0L269.8 650.9L270.8 650.9L271.8 651.0L272.8 651.0L273.8 650.7L274.8 651.0L275.8 651.3L276.8 650.7L277.8 651.1L278.8 651.0L279.8 650.9L280.8 651.1L281.8 650.8L282.8 651.0L283.8 651.1L284.8 650.9L285.8 650.9L286.8 651.0L287.8 650.9L288.8 651.1L289.8 650.8L290.8 651.1L291.8 650.8L292.8 651.0L293.8 650.9L294.8 650.6L295.8 650.9L296.8 650.8L297.8 650.9L298.8 651.1L299.8 650.8L300.8 650.8L301.8 651.1L302.8 651.0L303.8 651.1L304.8 651.0L305.8 650.8L306.8 650.9L307.8 651.1L308.8 651.1L309.8 650.9L310.8 651.0L311.8 650.9L312.8 650.9L313.8 651.2L314.8 650.9L315.8 650.8L316.8 650.9L317.8 651.0L318.8 651.0L319.8 650.9L320.8 650.9L321.8 651.0L322.8 650.7L323.8 650.8L324.8 651.0L325.8 650.9L326.8 651.0L327.8 651.1L328.8 651.0L329.8 651.0L330.8 651.2L331.8 651.0L332.8 650.9L333.8 651.0L334.8 651.0L335.8 650.8L336.8 651.0L337.8 650.9L338.8 650.7L339.8 650.9L340.8 650.9L341.8 650.9L342.8 650.7L343.8 650.9L344.8 650.9L345.8 651.0L346.8 650.8L347.8 651.0L348.8 650.8L349.8 650.9L350.8 651.1L351.8 650.9L352.8 650.9L353.8 651.1L354.8 650.9L355.8 650.9L356.8 651.0L357.8 651.1L358.8 650.7L359.8 650.8L360.8 650.8L361.8 650.8L362.8 650.8L363.8 650.8L364.8 651.0L365.8 650.8L366.8 651.0L367.8 651.0L368.8 650.9L369.8 651.0L370.8 651.1L371.8 651.0L372.8 650.9L373.8 650.9L374.8 650.8L375.8 651.0L376.8 651.1L377.8 650.8L378.8 650.9L379.8 651.1L380.8 650.9L381.8 651.0L382.8 650.8L383.8 650.8L384.8 650.9L385.8 651.2L386.8 650.9L387.8 650.9L388.8 650.9L389.8 650.9L390.8 651.0L391.8 651.0L392.8 651.2L393.8 651.0L394.8 651.1L395.8 651.0L396.8 651.0L397.8 650.8L398.8 650.9L399.8 650.9L400.8 650.9L401.8 650.7L402.8 651.1L403.8 650.9L404.8 650.9L405.8 650.9L406.8 650.9L407.8 651.0L408.8 650.8L409.8 650.8L410.8 651.0L411.8 651.0L412.8 650.9L413.8 650.9L414.8 650.8L415.8 650.9L416.8 651.1L417.8 650.8L418.8 651.1L419.8 651.0L420.8 650.9L421.8 651.0L422.8 650.8L423.8 650.7L424.8 650.8L425.8 650.9L426.8 650.9L427.8 650.9L428.8 651.0L429.8 650.7L430.8 651.0L431.8 650.8L432.8 650.9L433.8 650.9L434.8 650.8L435.8 650.8L436.8 650.8L437.8 650.9L438.8 651.0L439.8 651.0L440.8 650.8L441.8 650.9L442.8 650.8L443.8 651.0L444.8 650.7L445.8 651.1L446.8 650.9L447.8 650.9L448.8 651.0L449.8 651.1L450.8 651.0L451.8 651.1L452.8 651.0L453.8 651.1L454.8 651.1L455.8 650.9L456.8 651.1L457.8 651.0L458.8 651.0L459.8 650.8L460.8 650.9L461.8 651.0L462.8 650.8L463.8 651.0L464.8 651.0L465.8 651.0L466.8 650.7L467.8 650.9L468.8 651.0L469.8 650.9L470.8 651.0L471.8 650.7L472.8 651.0L473.8 650.9L474.8 651.1L475.8 650.7L476.8 651.0L477.8 650.9L478.8 651.0L479.8 650.8L480.8 650.9L481.8 651.2L482.8 650.8L483.8 650.9L484.8 650.9L485.8 650.8L486.8 651.1L487.8 651.2L488.8 650.9L489.8 650.7L490.8 651.1L491.8 651.1L492.8 651.0L493.8 651.1L494.8 650.8L495.8 650.9L496.8 650.8L497.8 650.8L498.8 651.1L499.8 650.9L500.8 651.2L501.8 651.0L502.8 650.9L503.8 651.0L504.8 651.2L505.8 651.0L506.8 650.8L507.8 651.0L508.8 651.1L509.8 650.9L510.8 650.9L511.8 651.1L512.8 651.0L513.8 650.8L514.8 650.9L515.8 650.9L516.8 651.0L517.8 651.0L518.8 651.1L519.8 651.0L520.8 650.8L521.8 651.0L522.8 651.1L523.8 651.0L524.8 651.1L525.8 650.9L526.8 650.8L527.8 651.1L528.8 650.8L529.8 650.7L530.8 651.1L531.8 650.9L532.8 650.9L533.8 650.8L534.8 650.8L535.8 650.8L536.8 650.9L537.8 651.0L538.8 650.7L539.8 651.0L540.8 650.8L541.8 650.8L542.8 651.0L543.8 650.9L544.8 650.8L545.8 651.2L546.8 650.8L547.8 651.0L548.8 651.0L549.8 651.1L550.8 650.9L551.8 651.1L552.8 650.9L553.8 651.1L554.8 650.9L555.8 650.9L556.8 651.2L557.8 651.0L558.8 651.0L559.8 651.2L560.8 651.0L561.8 650.8L562.8 651.0L563.8 650.8L564.8 651.1L565.8 651.1L566.8 650.9L567.8 650.9L568.8 651.0L569.8 650.9L570.8 650.8L571.8 651.0L572.8 650.7L573.8 650.9L574.8 650.9L575.8 650.9L576.8 651.0L577.8 650.8L578.8 651.0L579.8 650.9L580.8 650.9L581.8 650.8L582.8 650.8L583.8 651.0L584.8 650.8L585.8 650.9L586.8 651.1L587.8 651.1L588.8 651.1L589.8 650.9L590.8 650.8L591.8 651.1L592.8 651.0L593.8 651.1L594.8 650.9L595.8 651.1L596.8 651.0L597.8 651.0L598.8 651.0L599.8 651.0L600.8 651.0L601.8 651.0L602.8 651.1L603.8 650.9L604.8 651.1L605.8 650.9L606.8 651.1L607.8 650.9L608.8 650.9L609.8 651.2L610.8 650.9L611.8 650.8L612.8 650.9L613.8 650.9L614.8 651.2L615.8 651.0L616.8 651.1L617.8 650.8L618.8 651.0L619.8 651.0L620.8 651.2L621.8 650.9L622.8 651.0L623.8 651.0L624.8 650.8L625.8 650.9L626.8 650.9L627.8 650.7L628.8 651.0L629.8 651.0L630.8 650.9L631.8 650.8L632.8 651.1L633.8 651.0L634.8 651.1L635.8 651.1L636.8 650.9L637.8 651.0L638.8 650.9L639.8 650.9L640.8 650.9L641.8 650.9L642.8 651.1L643.8 651.0L644.8 650.9L645.8 650.9L646.8 651.0L647.8 650.8L648.8 650.9L649.8 650.9L650.8 650.9L651.8 650.9L652.8 650.9L653.8 651.2L654.8 651.1L655.8 651.0L656.8 650.9L657.8 651.2L658.8 651.0L659.8 650.9L660.8 651.0L661.8 651.0L662.8 651.1L663.8 650.9L664.8 651.2L665.8 650.8L666.8 651.0L667.8 650.8L668.8 651.1L669.8 650.9L670.8 650.9L671.8 651.0L672.8 651.1L673.8 650.8L674.8 650.9L675.8 650.8L676.8 650.9L677.8 650.9L678.8 650.9L679.8 650.8L680.8 650.9L681.8 650.8L682.8 651.0L683.8 651.1L684.8 650.7L685.8 650.9L686.8 650.9L687.8 651.0L688.8 650.8L689.8 650.9L690.8 650.8L691.8 651.0L692.8 650.9L693.8 650.9L694.8 651.0L695.8 650.9L696.8 650.7L697.8 651.0L698.8 651.0L699.8 650.9L700.8 651.0L701.8 651.1L702.8 650.8L703.8 650.8L704.8 651.1L705.8 651.1L706.8 650.8L707.8 650.8L708.8 650.8L709.8 650.9L710.8 650.7L711.8 650.9L712.8 650.8L713.8 650.8L714.8 651.0L715.8 650.8L716.8 650.9L717.8 651.0L718.8 651.0L719.8 650.9L720.8 650.9L721.8 650.8L722.8 651.1L723.8 651.0L724.8 650.8L725.8 650.9L726.8 651.0L727.8 651.0L728.8 651.1L729.8 651.1L730.8 650.8L731.8 650.9L732.8 650.8L733.8 650.9L734.8 650.9L735.8 651.2L736.8 650.9L737.8 650.7L738.8 650.8L739.8 650.9L740.8 650.7L741.8 650.8L742.8 650.9L743.8 650.9L744.8 650.9L745.8 650.8L746.8 651.0L747.8 650.8L748.8 650.8L749.8 650.7L750.8 650.8L751.8 651.0L752.8 650.7L753.8 650.9L754.8 651.0L755.8 650.8L756.8 650.9L757.8 650.7L758.8 651.0L759.8 651.0L760.8 650.9L761.8 650.7L762.8 650.7L763.8 651.0L764.8 651.1L765.8 650.9L766.8 651.0L767.8 650.8L768.8 650.8L769.8 650.9L770.8 650.9L771.8 650.7L772.8 651.0L773.8 651.0L774.8 650.7L775.8 650.7L776.8 650.9L777.8 650.8L778.8 650.6L779.8 650.9L780.8 650.9L781.8 650.8L782.8 651.1L783.8 650.8L784.8 650.7L785.8 650.8L786.8 650.7L787.8 650.7L788.8 650.9L789.8 650.7L790.8 650.7L791.8 651.0L792.8 650.9L793.8 650.9L794.8 650.8L795.8 650.8L796.8 650.9L797.8 650.8L798.8 651.0L799.8 650.6L800.8 650.7L801.8 650.6L802.8 650.7L803.8 650.8L804.8 650.9L805.8 650.6L806.8 650.7L807.8 650.6L808.8 650.6L809.8 650.5L810.8 650.6L811.8 650.4L812.8 650.6L813.8 650.6L814.8 650.5L815.8 650.4L816.8 650.4L817.8 650.7L818.8 650.3L819.8 650.6L820.8 650.5L821.8 650.4L822.8 650.2L823.8 650.5L824.8 650.5L825.8 650.1L826.8 650.2L827.8 650.3L828.8 650.1L829.8 650.3L830.8 649.9L831.8 649.9L832.8 649.6L833.8 649.9L834.8 649.5L835.8 649.2L836.8 649.3L837.8 649.1L838.8 649.1L839.8 648.6L840.8 648.4L841.8 648.2L842.8 647.9L843.3 647.5L843.8 647.4L844.3 647.0L844.8 646.7L845.3 646.4L845.8 646.0L846.3 645.6L846.8 645.2L847.3 644.7L847.8 644.1L848.3 643.4L848.8 642.7L849.3 641.8L849.8 640.9L850.3 639.7L850.8 638.3L851.3 636.6L851.8 634.6L852.3 632.2L852.8 629.2L853.3 625.5L853.8 621.1L854.3 616.2L854.8 611.5L855.3 608.0L855.8 607.1L856.3 609.1L856.8 613.3L857.3 618.2L857.8 622.9L858.3 627.1L858.8 630.5L859.3 633.2L859.8 635.5L860.3 637.3L860.8 638.9L861.3 640.2L861.8 641.3L862.3 642.2L862.8 643.0L863.3 643.7L863.8 644.3L864.3 644.9L864.8 645.4L865.3 645.8L865.8 646.2L866.3 646.5L866.8 646.8L867.3 647.1L867.8 647.4L868.3 647.7L868.8 647.8L869.3 648.0L869.8 648.2L870.3 648.2L871.3 648.8L872.3 648.7L873.3 649.2L874.3 649.4L875.3 649.4L876.3 649.4L877.3 649.6L878.3 649.8L879.3 649.9L880.3 650.0L881.3 650.1L882.3 650.0L883.3 650.2L884.3 650.0L885.3 650.3L886.3 650.3L887.3 650.3L888.3 650.5L889.3 650.5L890.3 650.1L891.3 650.5L892.3 650.3L893.3 650.6L894.3 650.8L895.3 650.5L896.3 650.6L897.3 650.5L898.3 650.6L899.3 650.7L900.3 650.8L901.3 650.5L902.3 650.8L903.3 650.6L904.3 650.7L905.3 650.8L906.3 650.8L907.3 650.6L908.3 650.6L909.3 650.7L910.3 650.7L911.3 650.9L912.3 650.6L913.3 650.8L914.3 650.8L915.3 650.8L916.3 650.8L917.3 651.0L918.3 650.8L919.3 650.9L920.3 650.9L921.3 651.0L922.3 650.6L923.3 651.0L924.3 650.8L925.3 650.8L926.3 650.7L927.3 650.6L928.3 650.8L929.3 650.7L930.3 650.9L931.3 650.7L932.3 651.0L933.3 650.9L934.3 650.8L935.3 650.8L936.3 650.8L937.3 650.7L938.3 650.8L939.3 650.9L940.3 650.8L941.3 650.7L942.3 650.8L943.3 650.8L944.3 650.9L945.3 651.1L946.3 650.9L947.3 650.8L948.3 650.7L949.3 650.7L950.3 650.7L951.3 651.0L952.3 650.8L953.3 650.9L954.3 650.8L955.3 650.9L956.3 651.1L957.3 650.8L958.3 650.8L959.3 650.8L960.3 651.0L961.3 650.8L962.3 650.8L963.3 650.7L964.3 650.7L965.3 651.0L966.3 651.2L967.3 650.8L968.3 651.0L969.3 650.9L970.3 650.8L971.3 650.9L972.3 650.9L973.3 650.8L974.3 651.1L975.3 650.7L976.3 651.0L977.3 650.9L978.3 650.8L979.3 650.9L980.3 651.0L981.3 650.9L982.3 651.0L983.3 651.0L984.3 650.7L985.3 651.1L986.3 651.2L987.3 651.0L988.3 651.0L989.3 650.7L990.3 650.9L991.3 650.8L992.3 650.8L993.3 651.0L994.3 650.8L995.3 650.9L996.3 650.7" fill="none" stroke="#00ff00" stroke-width="1.4" stroke-linejoin="round"/>
<path d="M126.8 651.1h0M127.8 651.1h0M128.8 651.1h0M129.8 651.0h0M130.8 650.8h0M131.8 651.0h0M132.8 650.9h0M133.8 650.6h0M134.8 651.3h0M135.8 651.0h0M136.8 651.2h0M137.8 650.8h0M138.8 651.1h0M139.8 651.1h0M140.8 651.1h0M141.8 650.9h0M142.8 650.8h0M143.8 650.9h0M144.8 650.7h0M145.8 650.7h0M146.8 651.0h0M147.8 650.8h0M148.8 650.9h0M149.8 650.9h0M150.8 651.2h0M151.8 651.1h0M152.8 650.9h0M153.8 651.1h0M154.8 650.9h0M155.8 650.9h0M156.8 651.1h0M157.8 650.8h0M158.8 650.9h0M159.8 650.8h0M160.8 651.0h0M161.8 651.1h0M162.8 650.9h0M163.8 651.0h0M164.8 650.8h0M165.8 650.8h0M166.8 650.8h0M167.8 651.1h0M168.8 651.2h0M169.8 651.0h0M170.8 650.9h0M171.8 651.0h0M172.8 650.9h0M173.8 651.0h0M174.8 651.0h0M175.8 651.0h0M176.8 651.0h0M177.8 650.9h0M178.8 650.9h0M179.8 650.7h0M180.8 650.9h0M181.8 650.8h0M182.8 650.9h0M183.8 650.8h0M184.8 651.0h0M185.8 651.0h0M186.8 650.8h0M187.8 650.9h0M188.8 650.8h0M189.8 651.0h0M190.8 651.2h0M191.8 651.1h0M192.8 650.9h0M193.8 651.1h0M194.8 650.8h0M195.8 651.1h0M196.8 650.9h0M197.8 650.6h0M198.8 651.3h0M199.8 651.1h0M200.8 650.8h0M201.8 651.0h0M202.8 650.9h0M203.8 651.0h0M204.8 650.8h0M205.8 650.9h0M206.8 651.0h0M207.8 651.0h0M208.8 651.1h0M209.8 651.0h0M210.8 651.2h0M211.8 650.9h0M212.8 651.0h0M213.8 650.7h0M214.8 650.8h0M215.8 651.1h0M216.8 650.8h0M217.8 651.0h0M218.8 650.9h0M219.8 650.8h0M220.8 650.9h0M221.8 650.9h0M222.8 650.9h0M223.8 651.0h0M224.8 651.0h0M225.8 650.9h0M226.8 650.8h0M227.8 651.0h0M228.8 650.9h0M229.8 651.1h0M230.8 651.3h0M231.8 651.0h0M232.8 650.9h0M233.8 650.9h0M234.8 650.8h0M235.8 650.8h0M236.8 650.8h0M237.8 650.9h0M238.8 650.9h0M239.8 651.0h0M240.8 650.9h0M241.8 650.9h0M242.8 650.8h0M243.8 651.1h0M244.8 651.0h0M245.8 651.2h0M246.8 651.0h0M247.8 651.1h0M248.8 650.9h0M249.8 651.0h0M250.8 651.3h0M251.8 650.8h0M252.8 651.1h0M253.8 651.2h0M254.8 651.0h0M255.8 651.0h0M256.8 651.1h0M257.8 650.9h0M258.8 651.0h0M259.8 650.8h0M260.8 650.9h0M261.8 650.9h0M262.8 650.9h0M263.8 651.0h0M264.8 651.0h0M265.8 650.8h0M266.8 651.2h0M267.8 651.1h0M268.8 651.0h0M269.8 650.9h0M270.8 650.9h0M271.8 651.0h0M272.8 651.0h0M273.8 650.7h0M274.8 651.0h0M275.8 651.3h0M276.8 650.7h0M277.8 651.1h0M278.8 651.0h0M279.8 650.9h0M280.8 651.1h0M281.8 650.8h0M282.8 651.0h0M283.8 651.1h0M284.8 650.9h0M285.8 650.9h0M286.8 651.0h0M287.8 650.9h0M288.8 651.1h0M289.8 650.8h0M290.8 651.1h0M291.8 650.8h0M292.8 651.0h0M293.8 650.9h0M294.8 650.6h0M295.8 650.9h0M296.8 650.8h0M297.8 650.9h0M298.8 651.1h0M299.8 650.8h0M300.8 650.8h0M301.8 651.1h0M302.8 651.0h0M303.8 651.1h0M304.8 651.0h0M305.8 650.8h0M306.8 650.9h0M307.8 651.1h0M308.8 651.1h0M309.8 650.9h0M310.8 651.0h0M311.8 650.9h0M312.8 650.9h0M313.8 651.2h0M314.8 650.9h0M315.8 650.8h0M316.8 650.9h0M317.8 651.0h0M318.8 651.0h0M319.8 650.9h0M320.8 650.9h0M321.8 651.0h0M322.8 650.7h0M323.8 650.8h0M324.8 651.0h0M325.8 650.9h0M326.8 651.0h0M327.8 651.1h0M328.8 651.0h0M329.8 651.0h0M330.8 651.2h0M331.8 651.0h0M332.8 650.9h0M333.8 651.0h0M334.8 651.0h0M335.8 650.8h0M336.8 651.0h0M337.8 650.9h0M338.8 650.7h0M339.8 650.9h0M340.8 650.9h0M341.8 650.9h0M342.8 650.7h0M343.8 650.9h0M344.8 650.9h0M345.8 651.0h0M346.8 650.8h0M347.8 651.0h0M348.8 650.8h0M349.8 650.9h0M350.8 651.1h0M351.8 650.9h0M352.8 650.9h0M353.8 651.1h0M354.8 650.9h0M355.8 650.9h0M356.8 651.0h0M357.8 651.1h0M358.8 650.7h0M359.8 650.8h0M360.8 650.8h0M361.8 650.8h0M362.8 650.8h0M363.8 650.8h0M364.8 651.0h0M365.8 650.8h0M366.8 651.0h0M367.8 651.0h0M368.8 650.9h0M369.8 651.0h0M370.8 651.1h0M371.8 651.0h0M372.8 650.9h0M373.8 650.9h0M374.8 650.8h0M375.8 651.0h0M376.8 651.1h0M377.8 650.8h0M378.8 650.9h0M379.8 651.1h0M380.8 650.9h0M381.8 651.0h0M382.8 650.8h0M383.8 650.8h0M384.8 650.9h0M385.8 651.2h0M386.8 650.9h0M387.8 650.9h0M388.8 650.9h0M389.8 650.9h0M390.8 651.0h0M391.8 651.0h0M392.8 651.2h0M393.8 651.0h0M394.8 651.1h0M395.8 651.0h0M396.8 651.0h0M397.8 650.8h0M398.8 650.9h0M399.8 650.9h0M400.8 650.9h0M401.8 650.7h0M402.8 651.1h0M403.8 650.9h0M404.8 650.9h0M405.8 650.9h0M406.8 650.9h0M407.8 651.0h0M408.8 650.8h0M409.8 650.8h0M410.8 651.0h0M411.8 651.0h0M412.8 650.9h0M413.8 650.9h0M414.8 650.8h0M415.8 650.9h0M416.8 651.1h0M417.8 650.8h0M418.8 651.1h0M419.8 651.0h0M420.8 650.9h0M421.8 651.0h0M422.8 650.8h0M423.8 650.7h0M424.8 650.8h0M425.8 650.9h0M426.8 650.9h0M427.8 650.9h0M428.8 651.0h0M429.8 650.7h0M430.8 651.0h0M431.8 650.8h0M432.8 650.9h0M433.8 650.9h0M434.8 650.8h0M435.8 650.8h0M436.8 650.8h0M437.8 650.9h0M438.8 651.0h0M439.8 651.0h0M440.8 650.8h0M441.8 650.9h0M442.8 650.8h0M443.8 651.0h0M444.8 650.7h0M445.8 651.1h0M446.8 650.9h0M447.8 650.9h0M448.8 651.0h0M449.8 651.1h0M450.8 651.0h0M451.8 651.1h0M452.8 651.0h0M453.8 651.1h0M454.8 651.1h0M455.8 650.9h0M456.8 651.1h0M457.8 651.0h0M458.8 651.0h0M459.8 650.8h0M460.8 650.9h0M461.8 651.0h0M462.8 650.8h0M463.8 651.0h0M464.8 651.0h0M465.8 651.0h0M466.8 650.7h0M467.8 650.9h0M468.8 651.0h0M469.8 650.9h0M470.8 651.0h0M471.8 650.7h0M472.8 651.0h0M473.8 650.9h0M474.8 651.1h0M475.8 650.7h0M476.8 651.0h0M477.8 650.9h0M478.8 651.0h0M479.8 650.8h0M480.8 650.9h0M481.8 651.2h0M482.8 650.8h0M483.8 650.9h0M484.8 650.9h0M485.8 650.8h0M486.8 651.1h0M487.8 651.2h0M488.8 650.9h0M489.8 650.7h0M490.8 651.1h0M491.8 651.1h0M492.8 651.0h0M493.8 651.1h0M494.8 650.8h0M495.8 650.9h0M496.8 650.8h0M497.8 650.8h0M498.8 651.1h0M499.8 650.9h0M500.8 651.2h0M501.8 651.0h0M502.8 650.9h0M503.8 651.0h0M504.8 651.2h0M505.8 651.0h0M506.8 650.8h0M507.8 651.0h0M508.8 651.1h0M509.8 650.9h0M510.8 650.9h0M511.8 651.1h0M512.8 651.0h0M513.8 650.8h0M514.8 650.9h0M515.8 650.9h0M516.8 651.0h0M517.8 651.0h0M518.8 651.1h0M519.8 651.0h0M520.8 650.8h0M521.8 651.0h0M522.8 651.1h0M523.8 651.0h0M524.8 651.1h0M525.8 650.9h0M526.8 650.8h0M527.8 651.1h0M528.8 650.8h0M529.8 650.7h0M530.8 651.1h0M531.8 650.9h0M532.8 650.9h0M533.8 650.8h0M534.8 650.8h0M535.8 650.8h0M536.8 650.9h0M537.8 651.0h0M538.8 650.7h0M539.8 651.0h0M540.8 650.8h0M541.8 650.8h0M542.8 651.0h0M543.8 650.9h0M544.8 650.8h0M545.8 651.2h0M546.8 650.8h0M547.8 651.0h0M548.8 651.0h0M549.8 651.1h0M550.8 650.9h0M551.8 651.1h0M552.8 650.9h0M553.8 651.1h0M554.8 650.9h0M555.8 650.9h0M556.8 651.2h0M557.8 651.0h0M558.8 651.0h0M559.8 651.2h0M560.8 651.0h0M561.8 650.8h0M562.8 651.0h0M563.8 650.8h0M564.8 651.1h0M565.8 651.1h0M566.8 650.9h0M567.8 650.9h0M568.8 651.0h0M569.8 650.9h0M570.8 650.8h0M571.8 651.0h0M572.8 650.7h0M573.8 650.9h0M574.8 650.9h0M575.8 650.9h0M576.8 651.0h0M577.8 650.8h0M578.8 651.0h0M579.8 650.9h0M580.8 650.9h0M581.8 650.8h0M582.8 650.8h0M583.8 651.0h0M584.8 650.8h0M585.8 650.9h0M586.8 651.1h0M587.8 651.1h0M588.8 651.1h0M589.8 650.9h0M590.8 650.8h0M591.8 651.1h0M592.8 651.0h0M593.8 651.1h0M594.8 650.9h0M595.8 651.1h0M596.8 651.0h0M597.8 651.0h0M598.8 651.0h0M599.8 651.0h0M600.8 651.0h0M601.8 651.0h0M602.8 651.1h0M603.8 650.9h0M604.8 651.1h0M605.8 650.9h0M606.8 651.1h0M607.8 650.9h0M608.8 650.9h0M609.8 651.2h0M610.8 650.9h0M611.8 650.8h0M612.8 650.9h0M613.8 650.9h0M614.8 651.2h0M615.8 651.0h0M616.8 651.1h0M617.8 650.8h0M618.8 651.0h0M619.8 651.0h0M620.8 651.2h0M621.8 650.9h0M622.8 651.0h0M623.8 651.0h0M624.8 650.8h0M625.8 650.9h0M626.8 650.9h0M627.8 650.7h0M628.8 651.0h0M629.8 651.0h0M630.8 650.9h0M631.8 650.8h0M632.8 651.1h0M633.8 651.0h0M634.8 651.1h0M635.8 651.1h0M636.8 650.9h0M637.8 651.0h0M638.8 650.9h0M639.8 650.9h0M640.8 650.9h0M641.8 650.9h0M642.8 651.1h0M643.8 651.0h0M644.8 650.9h0M645.8 650.9h0M646.8 651.0h0M647.8 650.8h0M648.8 650.9h0M649.8 650.9h0M650.8 650.9h0M651.8 650.9h0M652.8 650.9h0M653.8 651.2h0M654.8 651.1h0M655.8 651.0h0M656.8 650.9h0M657.8 651.2h0M658.8 651.0h0M659.8 650.9h0M660.8 651.0h0M661.8 651.0h0M662.8 651.1h0M663.8 650.9h0M664.8 651.2h0M665.8 650.8h0M666.8 651.0h0M667.8 650.8h0M668.8 651.1h0M669.8 650.9h0M670.8 650.9h0M671.8 651.0h0M672.8 651.1h0M673.8 650.8h0M674.8 650.9h0M675.8 650.8h0M676.8 650.9h0M677.8 650.9h0M678.8 650.9h0M679.8 650.8h0M680.8 650.9h0M681.8 650.8h0M682.8 651.0h0M683.8 651.1h0M684.8 650.7h0M685.8 650.9h0M686.8 650.9h0M687.8 651.0h0M688.8 650.8h0M689.8 650.9h0M690.8 650.8h0M691.8 651.0h0M692.8 650.9h0M693.8 650.9h0M694.8 651.0h0M695.8 650.9h0M696.8 650.7h0M697.8 651.0h0M698.8 651.0h0M699.8 650.9h0M700.8 651.0h0M701.8 651.1h0M702.8 650.8h0M703.8 650.8h0M704.8 651.1h0M705.8 651.1h0M706.8 650.8h0M707.8 650.8h0M708.8 650.8h0M709.8 650.9h0M710.8 650.7h0M711.8 650.9h0M712.8 650.8h0M713.8 650.8h0M714.8 651.0h0M715.8 650.8h0M716.8 650.9h0M717.8 651.0h0M718.8 651.0h0M719.8 650.9h0M720.8 650.9h0M721.8 650.8h0M722.8 651.1h0M723.8 651.0h0M724.8 650.8h0M725.8 650.9h0M726.8 651.0h0M727.8 651.0h0M728.8 651.1h0M729.8 651.1h0M730.8 650.8h0M731.8 650.9h0M732.8 650.8h0M733.8 650.9h0M734.8 650.9h0M735.8 651.2h0M736.8 650.9h0M737.8 650.7h0M738.8 650.8h0M739.8 650.9h0M740.8 650.7h0M741.8 650.8h0M742.8 650.9h0M743.8 650.9h0M744.8 650.9h0M745.8 650.8h0M746.8 651.0h0M747.8 650.8h0M748.8 650.8h0M749.8 650.7h0M750.8 650.8h0M751.8 651.0h0M752.8 650.7h0M753.8 650.9h0M754.8 651.0h0M755.8 650.8h0M756.8 650.9h0M757.8 650.7h0M758.8 651.0h0M759.8 651.0h0M760.8 650.9h0M761.8 650.7h0M762.8 650.7h0M763.8 651.0h0M764.8 651.1h0M765.8 650.9h0M766.8 651.0h0M767.8 650.8h0M768.8 650.8h0M769.8 650.9h0M770.8 650.9h0M771.8 650.7h0M772.8 651.0h0M773.8 651.0h0M774.8 650.7h0M775.8 650.7h0M776.8 650.9h0M777.8 650.8h0M778.8 650.6h0M779.8 650.9h0M780.8 650.9h0M781.8 650.8h0M782.8 651.1h0M783.8 650.8h0M784.8 650.7h0M785.8 650.8h0M786.8 650.7h0M787.8 650.7h0M788.8 650.9h0M789.8 650.7h0M790.8 650.7h0M791.8 651.0h0M792.8 650.9h0M793.8 650.9h0M794.8 650.8h0M795.8 650.8h0M796.8 650.9h0M797.8 650.8h0M798.8 651.0h0M799.8 650.6h0M800.8 650.7h0M801.8 650.6h0M802.8 650.7h0M803.8 650.8h0M804.8 650.9h0M805.8 650.6h0M806.8 650.7h0M807.8 650.6h0M808.8 650.6h0M809.8 650.5h0M810.8 650.6h0M811.8 650.4h0M812.8 650.6h0M813.8 650.6h0M814.8 650.5h0M815.8 650.4h0M816.8 650.4h0M817.8 650.7h0M818.8 650.3h0M819.8 650.6h0M820.8 650.5h0M821.8 650.4h0M822.8 650.2h0M823.8 650.5h0M824.8 650.5h0M825.8 650.1h0M826.8 650.2h0M827.8 650.3h0M828.8 650.1h0M829.8 650.3h0M830.8 649.9h0M831.8 649.9h0M832.8 649.6h0M833.8 649.9h0M834.8 649.5h0M835.8 649.2h0M836.8 649.3h0M837.8 649.1h0M838.8 649.1h0M839.8 648.6h0M840.8 648.4h0M841.8 648.2h0M842.8 647.9h0M843.3 647.5h0M843.8 647.4h0M844.3 647.0h0M844.8 646.7h0M845.3 646.4h0M845.8 646.0h0M846.3 645.6h0M846.8 645.2h0M847.3 644.7h0M847.8 644.1h0M848.3 643.4h0M848.8 642.7h0M849.3 641.8h0M849.8 640.9h0M850.3 639.7h0M850.8 638.3h0M851.3 636.6h0M851.8 634.6h0M852.3 632.2h0M852.8 629.2h0M853.3 625.5h0M853.8 621.1h0M854.3 616.2h0M854.8 611.5h0M855.3 608.0h0M855.8 607.1h0M856.3 609.1h0M856.8 613.3h0M857.3 618.2h0M857.8 622.9h0M858.3 627.1h0M858.8 630.5h0M859.3 633.2h0M859.8 635.5h0M860.3 637.3h0M860.8 638.9h0M861.3 640.2h0M861.8 641.3h0M862.3 642.2h0M862.8 643.0h0M863.3 643.7h0M863.8 644.3h0M864.3 644.9h0M864.8 645.4h0M865.3 645.8h0M865.8 646.2h0M866.3 646.5h0M866.8 646.8h0M867.3 647.1h0M867.8 647.4h0M868.3 647.7h0M868.8 647.8h0M869.3 648.0h0M869.8 648.2h0M870.3 648.2h0M871.3 648.8h0M872.3 648.7h0M873.3 649.2h0M874.3 649.4h0M875.3 649.4h0M876.3 649.4h0M877.3 649.6h0M878.3 649.8h0M879.3 649.9h0M880.3 650.0h0M881.3 650.1h0M882.3 650.0h0M883.3 650.2h0M884.3 650.0h0M885.3 650.3h0M886.3 650.3h0M887.3 650.3h0M888.3 650.5h0M889.3 650.5h0M890.3 650.1h0M891.3 650.5h0M892.3 650.3h0M893.3 650.6h0M894.3 650.8h0M895.3 650.5h0M896.3 650.6h0M897.3 650.5h0M898.3 650.6h0M899.3 650.7h0M900.3 650.8h0M901.3 650.5h0M902.3 650.8h0M903.3 650.6h0M904.3 650.7h0M905.3 650.8h0M906.3 650.8h0M907.3 650.6h0M908.3 650.6h0M909.3 650.7h0M910.3 650.7h0M911.3 650.9h0M912.3 650.6h0M913.3 650.8h0M914.3 650.8h0M915.3 650.8h0M916.3 650.8h0M917.3 651.0h0M918.3 650.8h0M919.3 650.9h0M920.3 650.9h0M921.3 651.0h0M922.3 650.6h0M923.3 651.0h0M924.3 650.8h0M925.3 650.8h0M926.3 650.7h0M927.3 650.6h0M928.3 650.8h0M929.3 650.7h0M930.3 650.9h0M931.3 650.7h0M932.3 651.0h0M933.3 650.9h0M934.3 650.8h0M935.3 650.8h0M936.3 650.8h0M937.3 650.7h0M938.3 650.8h0M939.3 650.9h0M940.3 650.8h0M941.3 650.7h0M942.3 650.8h0M943.3 650.8h0M944.3 650.9h0M945.3 651.1h0M946.3 650.9h0M947.3 650.8h0M948.3 650.7h0M949.3 650.7h0M950.3 650.7h0M951.3 651.0h0M952.3 650.8h0M953.3 650.9h0M954.3 650.8h0M955.3 650.9h0M956.3 651.1h0M957.3 650.8h0M958.3 650.8h0M959.3 650.8h0M960.3 651.0h0M961.3 650.8h0M962.3 650.8h0M963.3 650.7h0M964.3 650.7h0M965.3 651.0h0M966.3 651.2h0M967.3 650.8h0M968.3 651.0h0M969.3 650.9h0M970.3 650.8h0M971.3 650.9h0M972.3 650.9h0M973.3 650.8h0M974.3 651.1h0M975.3 650.7h0M976.3 651.0h0M977.3 650.9h0M978.3 650.8h0M979.3 650.9h0M980.3 651.0h0M981.3 650.9h0M982.3 651.0h0M983.3 651.0h0M984.3 650.7h0M985.3 651.1h0M986.3 651.2h0M987.3 651.0h0M988.3 651.0h0M989.3 650.7h0M990.3 650.9h0M991.3 650.8h0M992.3 650.8h0M993.3 651.0h0M994.3 650.8h0M995.3 650.9h0M996.3 650.7h0" fill="none" stroke="#00ff00" stroke-width="8.70" stroke-linecap="round"/>
<path d="M126.8 651.0L127.8 651.0L128.8 650.9L129.8 650.9L130.8 651.2L131.8 650.9L132.8 650.9L133.8 650.9L134.8 651.1L135.8 651.3L136.8 651.0L137.8 650.9L138.8 650.9L139.8 651.1L140.8 650.9L141.8 651.2L142.8 651.2L143.8 651.0L144.8 651.1L145.8 651.1L146.8 651.2L147.8 650.9L148.8 651.1L149.8 651.0L150.8 650.9L151.8 651.0L152.8 651.0L153.8 650.9L154.8 650.8L155.8 650.9L156.8 651.2L157.8 651.2L158.8 651.1L159.8 651.1L160.8 650.9L161.8 651.0L162.8 651.0L163.8 650.9L164.8 650.9L165.8 651.0L166.8 651.0L167.8 650.9L168.8 651.0L169.8 651.0L170.8 651.1L171.8 651.0L172.8 651.0L173.8 651.0L174.8 651.0L175.8 650.9L176.8 651.0L177.8 651.1L178.8 651.1L179.8 651.2L180.8 650.8L181.8 651.0L182.8 650.9L183.8 651.0L184.8 650.9L185.8 650.9L186.8 651.1L187.8 651.0L188.8 650.9L189.8 651.2L190.8 651.1L191.8 650.9L192.8 651.1L193.8 650.9L194.8 651.1L195.8 651.0L196.8 650.9L197.8 651.0L198.8 650.9L199.8 651.0L200.8 651.0L201.8 651.0L202.8 650.9L203.8 650.6L204.8 651.0L205.8 650.8L206.8 651.0L207.8 651.1L208.8 651.0L209.8 651.0L210.8 651.0L211.8 651.0L212.8 650.9L213.8 650.9L214.8 650.9L215.8 651.1L216.8 651.0L217.8 651.1L218.8 651.0L219.8 651.0L220.8 651.0L221.8 651.1L222.8 651.1L223.8 651.0L224.8 650.9L225.8 650.9L226.8 651.2L227.8 651.0L228.8 651.0L229.8 651.2L230.8 651.1L231.8 651.1L232.8 651.0L233.8 651.3L234.8 651.0L235.8 651.1L236.8 651.0L237.8 650.8L238.8 650.8L239.8 651.0L240.8 651.0L241.8 651.0L242.8 650.9L243.8 650.8L244.8 651.0L245.8 650.8L246.8 651.1L247.8 651.1L248.8 651.3L249.8 651.1L250.8 650.9L251.8 650.9L252.8 650.6L253.8 650.9L254.8 651.0L255.8 651.1L256.8 651.1L257.8 651.1L258.8 651.0L259.8 651.1L260.8 651.2L261.8 650.9L262.8 650.9L263.8 650.8L264.8 651.2L265.8 651.2L266.8 651.1L267.8 650.9L268.8 651.0L269.8 651.0L270.8 651.0L271.8 651.0L272.8 651.1L273.8 651.0L274.8 651.1L275.8 651.0L276.8 651.0L277.8 651.0L278.8 650.9L279.8 651.1L280.8 651.0L281.8 651.0L282.8 651.0L283.8 650.8L284.8 651.1L285.8 650.9L286.8 651.1L287.8 651.0L288.8 650.8L289.8 650.9L290.8 650.9L291.8 650.9L292.8 650.9L293.8 651.1L294.8 651.0L295.8 651.0L296.8 650.9L297.8 651.0L298.8 650.9L299.8 651.0L300.8 651.1L301.8 651.0L302.8 650.9L303.8 650.9L304.8 651.0L305.8 651.0L306.8 651.0L307.8 650.9L308.8 651.1L309.8 651.3L310.8 651.0L311.8 651.0L312.8 651.0L313.8 650.7L314.8 651.0L315.8 650.9L316.8 651.2L317.8 651.0L318.8 650.9L319.8 651.0L320.8 651.0L321.8 650.9L322.8 651.0L323.8 650.8L324.8 651.0L325.8 651.1L326.8 651.2L327.8 651.1L328.8 651.0L329.8 651.1L330.8 651.1L331.8 651.2L332.8 651.1L333.8 651.0L334.8 651.0L335.8 651.0L336.8 651.0L337.8 651.0L338.8 650.9L339.8 650.7L340.8 650.9L341.8 650.8L342.8 651.0L343.8 651.0L344.8 650.8L345.8 651.1L346.8 651.1L347.8 651.0L348.8 651.2L349.8 651.2L350.8 650.9L351.8 651.1L352.8 651.1L353.8 651.0L354.8 651.1L355.8 650.9L356.8 650.9L357.8 650.9L358.8 650.9L359.8 651.0L360.8 650.8L361.8 650.9L362.8 651.1L363.8 651.0L364.8 651.0L365.8 650.8L366.8 650.9L367.8 650.9L368.8 651.0L369.8 650.9L370.8 651.1L371.8 651.0L372.8 651.0L373.8 651.0L374.8 651.1L375.8 650.9L376.8 651.1L377.8 651.1L378.8 651.0L379.8 651.0L380.8 651.1L381.8 651.1L382.8 651.1L383.8 651.0L384.8 651.1L385.8 651.0L386.8 651.1L387.8 651.0L388.8 650.7L389.8 651.2L390.8 651.0L391.8 650.9L392.8 651.0L393.8 650.9L394.8 651.2L395.8 651.1L396.8 650.8L397.8 651.1L398.8 650.9L399.8 651.2L400.8 650.9L401.8 650.7L402.8 651.0L403.8 651.0L404.8 650.9L405.8 650.7L406.8 651.0L407.8 651.2L408.8 650.8L409.8 651.1L410.8 650.9L411.8 651.3L412.8 651.0L413.8 651.0L414.8 651.1L415.8 651.1L416.8 650.9L417.8 651.1L418.8 650.9L419.8 650.8L420.8 651.2L421.8 651.0L422.8 650.9L423.8 651.0L424.8 650.8L425.8 650.8L426.8 650.9L427.8 650.9L428.8 651.0L429.8 651.1L430.8 650.9L431.8 651.1L432.8 651.1L433.8 650.9L434.8 651.0L435.8 650.9L436.8 651.1L437.8 651.1L438.8 651.0L439.8 650.8L440.8 651.0L441.8 650.9L442.8 651.1L443.8 651.0L444.8 650.9L445.8 651.1L446.8 651.1L447.8 650.9L448.8 651.1L449.8 651.0L450.8 651.0L451.8 651.0L452.8 650.9L453.8 650.9L454.8 651.0L455.8 651.2L456.8 651.2L457.8 651.0L458.8 651.2L459.8 651.0L460.8 651.0L461.8 651.1L462.8 651.0L463.8 651.3L464.8 651.0L465.8 650.9L466.8 651.2L467.8 650.9L468.8 651.0L469.8 650.6L470.8 651.1L471.8 651.1L472.8 651.1L473.8 651.1L474.8 651.2L475.8 651.0L476.8 651.1L477.8 650.9L478.8 651.0L479.8 651.1L480.8 651.0L481.8 650.8L482.8 651.0L483.8 651.0L484.8 650.9L485.8 651.0L486.8 650.9L487.8 650.8L488.8 650.9L489.8 651.2L490.8 650.8L491.8 651.0L492.8 651.1L493.8 651.1L494.8 650.8L495.8 651.0L496.8 651.0L497.8 651.1L498.8 650.9L499.8 650.9L500.8 651.1L501.8 651.1L502.8 651.0L503.8 650.9L504.8 651.0L505.8 651.0L506.8 651.1L507.8 650.8L508.8 651.0L509.8 651.0L510.8 650.9L511.8 651.0L512.8 651.0L513.8 650.9L514.8 651.0L515.8 650.8L516.8 651.0L517.8 651.0L518.8 651.0L519.8 651.1L520.8 650.9L521.8 650.8L522.8 651.0L523.8 651.0L524.8 651.2L525.8 651.1L526.8 650.9L527.8 651.1L528.8 650.9L529.8 650.8L530.8 651.3L531.8 651.0L532.8 651.1L533.8 651.1L534.8 651.2L535.8 651.0L536.8 651.1L537.8 650.9L538.8 650.8L539.8 651.2L540.8 651.2L541.8 651.1L542.8 651.0L543.8 651.0L544.8 650.9L545.8 651.2L546.8 651.1L547.8 651.1L548.8 651.0L549.8 651.1L550.8 651.1L551.8 651.1L552.8 650.9L553.8 651.1L554.8 651.3L555.8 650.9L556.8 651.0L557.8 651.1L558.8 651.1L559.8 651.1L560.8 650.8L561.8 651.1L562.8 650.9L563.8 650.9L564.8 651.1L565.8 651.0L566.8 651.1L567.8 651.4L568.8 651.1L569.8 651.1L570.8 650.9L571.8 650.9L572.8 650.9L573.8 650.9L574.8 650.9L575.8 650.9L576.8 651.0L577.8 650.9L578.8 650.8L579.8 650.8L580.8 651.0L581.8 651.0L582.8 651.1L583.8 651.1L584.8 651.0L585.8 651.1L586.8 650.8L587.8 651.3L588.8 651.1L589.8 651.0L590.8 650.9L591.8 651.0L592.8 650.8L593.8 650.9L594.8 651.1L595.8 651.0L596.8 650.9L597.8 651.1L598.8 650.9L599.8 651.0L600.8 650.9L601.8 650.9L602.8 651.0L603.8 650.9L604.8 651.2L605.8 650.9L606.8 651.2L607.8 650.9L608.8 651.1L609.8 650.8L610.8 650.8L611.8 651.0L612.8 651.1L613.8 650.8L614.8 651.1L615.8 650.9L616.8 651.0L617.8 651.0L618.8 651.1L619.8 650.8L620.8 651.2L621.8 651.1L622.8 650.9L623.8 650.9L624.8 650.8L625.8 650.8L626.8 651.1L627.8 650.9L628.8 650.9L629.8 650.9L630.8 651.2L631.8 650.9L632.8 650.9L633.8 651.1L634.8 651.0L635.8 651.0L636.8 650.9L637.8 650.8L638.8 650.8L639.8 650.9L640.8 651.0L641.8 651.0L642.8 651.1L643.8 651.0L644.8 651.0L645.8 650.9L646.8 650.7L647.8 650.9L648.8 650.9L649.8 650.9L650.8 651.0L651.8 650.8L652.8 650.9L653.8 651.0L654.8 651.0L655.8 650.9L656.8 651.0L657.8 651.0L658.8 650.9L659.8 651.0L660.8 651.2L661.8 650.9L662.8 651.1L663.8 651.1L664.8 651.2L665.8 650.9L666.8 651.2L667.8 651.0L668.8 651.0L669.8 651.0L670.8 651.1L671.8 651.0L672.8 651.0L673.8 651.1L674.8 650.9L675.8 650.9L676.8 651.1L677.8 651.1L678.8 651.1L679.8 650.9L680.8 651.1L681.8 651.0L682.8 651.2L683.8 650.8L684.8 651.0L685.8 650.9L686.8 650.8L687.8 650.9L688.8 651.1L689.8 650.9L690.8 650.9L691.8 651.1L692.8 651.1L693.8 651.1L694.8 650.9L695.8 651.0L696.8 651.1L697.8 650.9L698.8 650.9L699.8 651.1L700.8 651.2L701.8 650.8L702.8 650.7L703.8 650.8L704.8 650.9L705.8 651.0L706.8 651.0L707.8 651.0L708.8 650.9L709.8 651.0L710.8 650.9L711.8 651.0L712.8 650.9L713.8 651.3L714.8 651.1L715.8 650.9L716.8 650.8L717.8 650.9L718.8 650.8L719.8 650.9L720.8 650.9L721.8 651.1L722.8 650.9L723.8 650.9L724.8 650.8L725.8 650.8L726.8 651.0L727.8 650.9L728.8 651.1L729.8 650.9L730.8 651.1L731.8 651.0L732.8 651.0L733.8 650.7L734.8 650.8L735.8 651.0L736.8 651.1L737.8 651.0L738.8 651.0L739.8 650.9L740.8 650.9L741.8 650.9L742.8 651.1L743.8 651.0L744.8 650.9L745.8 650.9L746.8 651.0L747.8 651.0L748.8 650.8L749.8 651.1L750.8 651.0L751.8 650.9L752.8 651.1L753.8 651.1L754.8 650.9L755.8 651.0L756.8 650.8L757.8 650.9L758.8 650.7L759.8 651.1L760.8 650.7L761.8 651.0L762.8 650.8L763.8 650.8L764.8 650.9L765.8 651.0L766.8 651.0L767.8 651.1L768.8 651.0L769.8 651.0L770.8 650.8L771.8 651.0L772.8 650.9L773.8 650.8L774.8 650.9L775.8 650.9L776.8 650.9L777.8 650.9L778.8 650.8L779.8 650.8L780.8 651.0L781.8 650.7L782.8 650.8L783.8 651.1L784.8 650.5L785.8 650.8L786.8 650.9L787.8 650.7L788.8 651.2L789.8 650.5L790.8 651.0L791.8 651.0L792.8 650.9L793.8 650.8L794.8 650.9L795.8 650.7L796.8 650.9L797.8 650.7L798.8 650.8L799.8 650.9L800.8 650.7L801.8 650.7L802.8 650.8L803.8 650.6L804.8 650.9L805.8 650.8L806.8 650.6L807.8 650.7L808.8 650.6L809.8 650.6L810.8 650.7L811.8 650.6L812.8 650.8L813.8 650.6L814.8 650.7L815.8 650.6L816.8 650.7L817.8 650.5L818.8 650.5L819.8 650.4L820.8 650.6L821.8 650.6L822.8 650.7L823.8 650.6L824.8 650.4L825.8 650.3L826.8 650.3L827.8 650.2L828.8 650.3L829.8 650.2L830.8 649.9L831.8 649.9L832.8 650.0L833.8 649.8L834.8 649.7L835.8 649.7L836.8 649.4L837.8 649.2L838.8 649.0L839.8 648.6L840.8 648.7L841.8 648.2L842.8 647.9L843.3 647.7L843.8 647.6L844.3 647.3L844.8 647.0L845.3 646.8L845.8 646.4L846.3 646.1L846.8 645.7L847.3 645.2L847.8 644.7L848.3 644.1L848.8 643.5L849.3 642.7L849.8 641.9L850.3 640.8L850.8 639.7L851.3 638.3L851.8 636.6L852.3 634.5L852.8 632.0L853.3 628.9L853.8 625.0L854.3 620.5L854.8 615.5L855.3 610.7L855.8 607.6L856.3 607.3L856.8 609.9L857.3 614.5L857.8 619.5L858.3 624.2L858.8 628.2L859.3 631.4L859.8 634.0L860.3 636.2L860.8 637.9L861.3 639.4L861.8 640.6L862.3 641.7L862.8 642.6L863.3 643.3L863.8 644.0L864.3 644.6L864.8 645.1L865.3 645.6L865.8 646.0L866.3 646.4L866.8 646.7L867.3 647.0L867.8 647.3L868.3 647.5L868.8 647.7L869.3 647.7L869.8 648.1L870.3 648.1L871.3 648.6L872.3 648.9L873.3 649.1L874.3 649.5L875.3 649.5L876.3 649.6L877.3 649.7L878.3 649.8L879.3 650.0L880.3 650.1L881.3 649.9L882.3 650.2L883.3 650.2L884.3 650.3L885.3 650.3L886.3 650.2L887.3 650.2L888.3 650.6L889.3 650.5L890.3 650.3L891.3 650.5L892.3 650.5L893.3 650.3L894.3 650.3L895.3 650.4L896.3 650.6L897.3 650.6L898.3 650.6L899.3 650.7L900.3 650.7L901.3 650.4L902.3 650.7L903.3 650.6L904.3 650.6L905.3 650.7L906.3 650.7L907.3 650.7L908.3 650.6L909.3 650.7L910.3 651.0L911.3 650.7L912.3 650.6L913.3 650.8L914.3 650.9L915.3 650.9L916.3 650.7L917.3 650.9L918.3 650.7L919.3 650.7L920.3 650.8L921.3 650.8L922.3 650.9L923.3 650.9L924.3 650.9L925.3 651.0L926.3 650.9L927.3 651.0L928.3 650.7L929.3 650.7L930.3 651.0L931.3 650.7L932.3 650.9L933.3 650.9L934.3 650.8L935.3 650.8L936.3 651.1L937.3 650.6L938.3 651.0L939.3 651.2L940.3 650.9L941.3 650.9L942.3 651.0L943.3 651.1L944.3 650.8L945.3 650.9L946.3 650.9L947.3 651.0L948.3 650.9L949.3 651.0L950.3 650.9L951.3 650.9L952.3 650.8L953.3 650.9L954.3 650.9L955.3 650.9L956.3 650.8L957.3 651.1L958.3 650.9L959.3 650.8L960.3 651.1L961.3 650.9L962.3 651.0L963.3 650.9L964.3 651.0L965.3 651.0L966.3 650.9L967.3 651.0L968.3 651.2L969.3 650.7L970.3 651.0L971.3 651.0L972.3 650.8L973.3 650.8L974.3 651.2L975.3 650.9L976.3 651.2L977.3 651.0L978.3 651.0L979.3 651.0L980.3 651.0L981.3 651.1L982.3 651.0L983.3 651.0L984.3 651.0L985.3 651.1L986.3 651.1L987.3 650.8L988.3 650.9L989.3 651.0L990.3 650.9L991.3 650.9L992.3 650.9L993.3 650.9L994.3 651.0L995.3 651.1L996.3 651.0" fill="none" stroke="#ff00ff" stroke-width="1.4" stroke-linejoin="round"/>
<path d="M126.8 651.0h0M127.8 651.0h0M128.8 650.9h0M129.8 650.9h0M130.8 651.2h0M131.8 650.9h0M132.8 650.9h0M133.8 650.9h0M134.8 651.1h0M135.8 651.3h0M136.8 651.0h0M137.8 650.9h0M138.8 650.9h0M139.8 651.1h0M140.8 650.9h0M141.8 651.2h0M142.8 651.2h0M143.8 651.0h0M144.8 651.1h0M145.8 651.1h0M146.8 651.2h0M147.8 650.9h0M148.8 651.1h0M149.8 651.0h0M150.8 650.9h0M151.8 651.0h0M152.8 651.0h0M153.8 650.9h0M154.8 650.8h0M155.8 650.9h0M156.8 651.2h0M157.8 651.2h0M158.8 651.1h0M159.8 651.1h0M160.8 650.9h0M161.8 651.0h0M162.8 651.0h0M163.8 650.9h0M164.8 650.9h0M165.8 651.0h0M166.8 651.0h0M167.8 650.9h0M168.8 651.0h0M169.8 651.0h0M170.8 651.1h0M171.8 651.0h0M172.8 651.0h0M173.8 651.0h0M174.8 651.0h0M175.8 650.9h0M176.8 651.0h0M177.8 651.1h0M178.8 651.1h0M179.8 651.2h0M180.8 650.8h0M181.8 651.0h0M182.8 650.9h0M183.8 651.0h0M184.8 650.9h0M185.8 650.9h0M186.8 651.1h0M187.8 651.0h0M188.8 650.9h0M189.8 651.2h0M190.8 651.1h0M191.8 650.9h0M192.8 651.1h0M193.8 650.9h0M194.8 651.1h0M195.8 651.0h0M196.8 650.9h0M197.8 651.0h0M198.8 650.9h0M199.8 651.0h0M200.8 651.0h0M201.8 651.0h0M202.8 650.9h0M203.8 650.6h0M204.8 651.0h0M205.8 650.8h0M206.8 651.0h0M207.8 651.1h0M208.8 651.0h0M209.8 651.0h0M210.8 651.0h0M211.8 651.0h0M212.8 650.9h0M213.8 650.9h0M214.8 650.9h0M215.8 651.1h0M216.8 651.0h0M217.8 651.1h0M218.8 651.0h0M219.8 651.0h0M220.8 651.0h0M221.8 651.1h0M222.8 651.1h0M223.8 651.0h0M224.8 650.9h0M225.8 650.9h0M226.8 651.2h0M227.8 651.0h0M228.8 651.0h0M229.8 651.2h0M230.8 651.1h0M231.8 651.1h0M232.8 651.0h0M233.8 651.3h0M234.8 651.0h0M235.8 651.1h0M236.8 651.0h0M237.8 650.8h0M238.8 650.8h0M239.8 651.0h0M240.8 651.0h0M241.8 651.0h0M242.8 650.9h0M243.8 650.8h0M244.8 651.0h0M245.8 650.8h0M246.8 651.1h0M247.8 651.1h0M248.8 651.3h0M249.8 651.1h0M250.8 650.9h0M251.8 650.9h0M252.8 650.6h0M253.8 650.9h0M254.8 651.0h0M255.8 651.1h0M256.8 651.1h0M257.8 651.1h0M258.8 651.0h0M259.8 651.1h0M260.8 651.2h0M261.8 650.9h0M262.8 650.9h0M263.8 650.8h0M264.8 651.2h0M265.8 651.2h0M266.8 651.1h0M267.8 650.9h0M268.8 651.0h0M269.8 651.0h0M270.8 651.0h0M271.8 651.0h0M272.8 651.1h0M273.8 651.0h0M274.8 651.1h0M275.8 651.0h0M276.8 651.0h0M277.8 651.0h0M278.8 650.9h0M279.8 651.1h0M280.8 651.0h0M281.8 651.0h0M282.8 651.0h0M283.8 650.8h0M284.8 651.1h0M285.8 650.9h0M286.8 651.1h0M287.8 651.0h0M288.8 650.8h0M289.8 650.9h0M290.8 650.9h0M291.8 650.9h0M292.8 650.9h0M293.8 651.1h0M294.8 651.0h0M295.8 651.0h0M296.8 650.9h0M297.8 651.0h0M298.8 650.9h0M299.8 651.0h0M300.8 651.1h0M301.8 651.0h0M302.8 650.9h0M303.8 650.9h0M304.8 651.0h0M305.8 651.0h0M306.8 651.0h0M307.8 650.9h0M308.8 651.1h0M309.8 651.3h0M310.8 651.0h0M311.8 651.0h0M312.8 651.0h0M313.8 650.7h0M314.8 651.0h0M315.8 650.9h0M316.8 651.2h0M317.8 651.0h0M318.8 650.9h0M319.8 651.0h0M320.8 651.0h0M321.8 650.9h0M322.8 651.0h0M323.8 650.8h0M324.8 651.0h0M325.8 651.1h0M326.8 651.2h0M327.8 651.1h0M328.8 651.0h0M329.8 651.1h0M330.8 651.1h0M331.8 651.2h0M332.8 651.1h0M333.8 651.0h0M334.8 651.0h0M335.8 651.0h0M336.8 651.0h0M337.8 651.0h0M338.8 650.9h0M339.8 650.7h0M340.8 650.9h0M341.8 650.8h0M342.8 651.0h0M343.8 651.0h0M344.8 650.8h0M345.8 651.1h0M346.8 651.1h0M347.8 651.0h0M348.8 651.2h0M349.8 651.2h0M350.8 650.9h0M351.8 651.1h0M352.8 651.1h0M353.8 651.0h0M354.8 651.1h0M355.8 650.9h0M356.8 650.9h0M357.8 650.9h0M358.8 650.9h0M359.8 651.0h0M360.8 650.8h0M361.8 650.9h0M362.8 651.1h0M363.8 651.0h0M364.8 651.0h0M365.8 650.8h0M366.8 650.9h0M367.8 650.9h0M368.8 651.0h0M369.8 650.9h0M370.8 651.1h0M371.8 651.0h0M372.8 651.0h0M373.8 651.0h0M374.8 651.1h0M375.8 650.9h0M376.8 651.1h0M377.8 651.1h0M378.8 651.0h0M379.8 651.0h0M380.8 651.1h0M381.8 651.1h0M382.8 651.1h0M383.8 651.0h0M384.8 651.1h0M385.8 651.0h0M386.8 651.1h0M387.8 651.0h0M388.8 650.7h0M389.8 651.2h0M390.8 651.0h0M391.8 650.9h0M392.8 651.0h0M393.8 650.9h0M394.8 651.2h0M395.8 651.1h0M396.8 650.8h0M397.8 651.1h0M398.8 650.9h0M399.8 651.2h0M400.8 650.9h0M401.8 650.7h0M402.8 651.0h0M403.8 651.0h0M404.8 650.9h0M405.8 650.7h0M406.8 651.0h0M407.8 651.2h0M408.8 650.8h0M409.8 651.1h0M410.8 650.9h0M411.8 651.3h0M412.8 651.0h0M413.8 651.0h0M414.8 651.1h0M415.8 651.1h0M416.8 650.9h0M417.8 651.1h0M418.8 650.9h0M419.8 650.8h0M420.8 651.2h0M421.8 651.0h0M422.8 650.9h0M423.8 651.0h0M424.8 650.8h0M425.8 650.8h0M426.8 650.9h0M427.8 650.9h0M428.8 651.0h0M429.8 651.1h0M430.8 650.9h0M431.8 651.1h0M432.8 651.1h0M433.8 650.9h0M434.8 651.0h0M435.8 650.9h0M436.8 651.1h0M437.8 651.1h0M438.8 651.0h0M439.8 650.8h0M440.8 651.0h0M441.8 650.9h0M442.8 651.1h0M443.8 651.0h0M444.8 650.9h0M445.8 651.1h0M446.8 651.1h0M447.8 650.9h0M448.8 651.1h0M449.8 651.0h0M450.8 651.0h0M451.8 651.0h0M452.8 650.9h0M453.8 650.9h0M454.8 651.0h0M455.8 651.2h0M456.8 651.2h0M457.8 651.0h0M458.8 651.2h0M459.8 651.0h0M460.8 651.0h0M461.8 651.1h0M462.8 651.0h0M463.8 651.3h0M464.8 651.0h0M465.8 650.9h0M466.8 651.2h0M467.8 650.9h0M468.8 651.0h0M469.8 650.6h0M470.8 651.1h0M471.8 651.1h0M472.8 651.1h0M473.8 651.1h0M474.8 651.2h0M475.8 651.0h0M476.8 651.1h0M477.8 650.9h0M478.8 651.0h0M479.8 651.1h0M480.8 651.0h0M481.8 650.8h0M482.8 651.0h0M483.8 651.0h0M484.8 650.9h0M485.8 651.0h0M486.8 650.9h0M487.8 650.8h0M488.8 650.9h0M489.8 651.2h0M490.8 650.8h0M491.8 651.0h0M492.8 651.1h0M493.8 651.1h0M494.8 650.8h0M495.8 651.0h0M496.8 651.0h0M497.8 651.1h0M498.8 650.9h0M499.8 650.9h0M500.8 651.1h0M501.8 651.1h0M502.8 651.0h0M503.8 650.9h0M504.8 651.0h0M505.8 651.0h0M506.8 651.1h0M507.8 650.8h0M508.8 651.0h0M509.8 651.0h0M510.8 650.9h0M511.8 651.0h0M512.8 651.0h0M513.8 650.9h0M514.8 651.0h0M515.8 650.8h0M516.8 651.0h0M517.8 651.0h0M518.8 651.0h0M519.8 651.1h0M520.8 650.9h0M521.8 650.8h0M522.8 651.0h0M523.8 651.0h0M524.8 651.2h0M525.8 651.1h0M526.8 650.9h0M527.8 651.1h0M528.8 650.9h0M529.8 650.8h0M530.8 651.3h0M531.8 651.0h0M532.8 651.1h0M533.8 651.1h0M534.8 651.2h0M535.8 651.0h0M536.8 651.1h0M537.8 650.9h0M538.8 650.8h0M539.8 651.2h0M540.8 651.2h0M541.8 651.1h0M542.8 651.0h0M543.8 651.0h0M544.8 650.9h0M545.8 651.2h0M546.8 651.1h0M547.8 651.1h0M548.8 651.0h0M549.8 651.1h0M550.8 651.1h0M551.8 651.1h0M552.8 650.9h0M553.8 651.1h0M554.8 651.3h0M555.8 650.9h0M556.8 651.0h0M557.8 651.1h0M558.8 651.1h0M559.8 651.1h0M560.8 650.8h0M561.8 651.1h0M562.8 650.9h0M563.8 650.9h0M564.8 651.1h0M565.8 651.0h0M566.8 651.1h0M567.8 651.4h0M568.8 651.1h0M569.8 651.1h0M570.8 650.9h0M571.8 650.9h0M572.8 650.9h0M573.8 650.9h0M574.8 650.9h0M575.8 650.9h0M576.8 651.0h0M577.8 650.9h0M578.8 650.8h0M579.8 650.8h0M580.8 651.0h0M581.8 651.0h0M582.8 651.1h0M583.8 651.1h0M584.8 651.0h0M585.8 651.1h0M586.8 650.8h0M587.8 651.3h0M588.8 651.1h0M589.8 651.0h0M590.8 650.9h0M591.8 651.0h0M592.8 650.8h0M593.8 650.9h0M594.8 651.1h0M595.8 651.0h0M596.8 650.9h0M597.8 651.1h0M598.8 650.9h0M599.8 651.0h0M600.8 650.9h0M601.8 650.9h0M602.8 651.0h0M603.8 650.9h0M604.8 651.2h0M605.8 650.9h0M606.8 651.2h0M607.8 650.9h0M608.8 651.1h0M609.8 650.8h0M610.8 650.8h0M611.8 651.0h0M612.8 651.1h0M613.8 650.8h0M614.8 651.1h0M615.8 650.9h0M616.8 651.0h0M617.8 651.0h0M618.8 651.1h0M619.8 650.8h0M620.8 651.2h0M621.8 651.1h0M622.8 650.9h0M623.8 650.9h0M624.8 650.8h0M625.8 650.8h0M626.8 651.1h0M627.8 650.9h0M628.8 650.9h0M629.8 650.9h0M630.8 651.2h0M631.8 650.9h0M632.8 650.9h0M633.8 651.1h0M634.8 651.0h0M635.8 651.0h0M636.8 650.9h0M637.8 650.8h0M638.8 650.8h0M639.8 650.9h0M640.8 651.0h0M641.8 651.0h0M642.8 651.1h0M643.8 651.0h0M644.8 651.0h0M645.8 650.9h0M646.8 650.7h0M647.8 650.9h0M648.8 650.9h0M649.8 650.9h0M650.8 651.0h0M651.8 650.8h0M652.8 650.9h0M653.8 651.0h0M654.8 651.0h0M655.8 650.9h0M656.8 651.0h0M657.8 651.0h0M658.8 650.9h0M659.8 651.0h0M660.8 651.2h0M661.8 650.9h0M662.8 651.1h0M663.8 651.1h0M664.8 651.2h0M665.8 650.9h0M666.8 651.2h0M667.8 651.0h0M668.8 651.0h0M669.8 651.0h0M670.8 651.1h0M671.8 651.0h0M672.8 651.0h0M673.8 651.1h0M674.8 650.9h0M675.8 650.9h0M676.8 651.1h0M677.8 651.1h0M678.8 651.1h0M679.8 650.9h0M680.8 651.1h0M681.8 651.0h0M682.8 651.2h0M683.8 650.8h0M684.8 651.0h0M685.8 650.9h0M686.8 650.8h0M687.8 650.9h0M688.8 651.1h0M689.8 650.9h0M690.8 650.9h0M691.8 651.1h0M692.8 651.1h0M693.8 651.1h0M694.8 650.9h0M695.8 651.0h0M696.8 651.1h0M697.8 650.9h0M698.8 650.9h0M699.8 651.1h0M700.8 651.2h0M701.8 650.8h0M702.8 650.7h0M703.8 650.8h0M704.8 650.9h0M705.8 651.0h0M706.8 651.0h0M707.8 651.0h0M708.8 650.9h0M709.8 651.0h0M710.8 650.9h0M711.8 651.0h0M712.8 650.9h0M713.8 651.3h0M714.8 651.1h0M715.8 650.9h0M716.8 650.8h0M717.8 650.9h0M718.8 650.8h0M719.8 650.9h0M720.8 650.9h0M721.8 651.1h0M722.8 650.9h0M723.8 650.9h0M724.8 650.8h0M725.8 650.8h0M726.8 651.0h0M727.8 650.9h0M728.8 651.1h0M729.8 650.9h0M730.8 651.1h0M731.8 651.0h0M732.8 651.0h0M733.8 650.7h0M734.8 650.8h0M735.8 651.0h0M736.8 651.1h0M737.8 651.0h0M738.8 651.0h0M739.8 650.9h0M740.8 650.9h0M741.8 650.9h0M742.8 651.1h0M743.8 651.0h0M744.8 650.9h0M745.8 650.9h0M746.8 651.0h0M747.8 651.0h0M748.8 650.8h0M749.8 651.1h0M750.8 651.0h0M751.8 650.9h0M752.8 651.1h0M753.8 651.1h0M754.8 650.9h0M755.8 651.0h0M756.8 650.8h0M757.8 650.9h0M758.8 650.7h0M759.8 651.1h0M760.8 650.7h0M761.8 651.0h0M762.8 650.8h0M763.8 650.8h0M764.8 650.9h0M765.8 651.0h0M766.8 651.0h0M767.8 651.1h0M768.8 651.0h0M769.8 651.0h0M770.8 650.8h0M771.8 651.0h0M772.8 650.9h0M773.8 650.8h0M774.8 650.9h0M775.8 650.9h0M776.8 650.9h0M777.8 650.9h0M778.8 650.8h0M779.8 650.8h0M780.8 651.0h0M781.8 650.7h0M782.8 650.8h0M783.8 651.1h0M784.8 650.5h0M785.8 650.8h0M786.8 650.9h0M787.8 650.7h0M788.8 651.2h0M789.8 650.5h0M790.8 651.0h0M791.8 651.0h0M792.8 650.9h0M793.8 650.8h0M794.8 650.9h0M795.8 650.7h0M796.8 650.9h0M797.8 650.7h0M798.8 650.8h0M799.8 650.9h0M800.8 650.7h0M801.8 650.7h0M802.8 650.8h0M803.8 650.6h0M804.8 650.9h0M805.8 650.8h0M806.8 650.6h0M807.8 650.7h0M808.8 650.6h0M809.8 650.6h0M810.8 650.7h0M811.8 650.6h0M812.8 650.8h0M813.8 650.6h0M814.8 650.7h0M815.8 650.6h0M816.8 650.7h0M817.8 650.5h0M818.8 650.5h0M819.8 650.4h0M820.8 650.6h0M821.8 650.6h0M822.8 650.7h0M823.8 650.6h0M824.8 650.4h0M825.8 650.3h0M826.8 650.3h0M827.8 650.2h0M828.8 650.3h0M829.8 650.2h0M830.8 649.9h0M831.8 649.9h0M832.8 650.0h0M833.8 649.8h0M834.8 649.7h0M835.8 649.7h0M836.8 649.4h0M837.8 649.2h0M838.8 649.0h0M839.8 648.6h0M840.8 648.7h0M841.8 648.2h0M842.8 647.9h0M843.3 647.7h0M843.8 647.6h0M844.3 647.3h0M844.8 647.0h0M845.3 646.8h0M845.8 646.4h0M846.3 646.1h0M846.8 645.7h0M847.3 645.2h0M847.8 644.7h0M848.3 644.1h0M848.8 643.5h0M849.3 642.7h0M849.8 641.9h0M850.3 640.8h0M850.8 639.7h0M851.3 638.3h0M851.8 636.6h0M852.3 634.5h0M852.8 632.0h0M853.3 628.9h0M853.8 625.0h0M854.3 620.5h0M854.8 615.5h0M855.3 610.7h0M855.8 607.6h0M856.3 607.3h0M856.8 609.9h0M857.3 614.5h0M857.8 619.5h0M858.3 624.2h0M858.8 628.2h0M859.3 631.4h0M859.8 634.0h0M860.3 636.2h0M860.8 637.9h0M861.3 639.4h0M861.8 640.6h0M862.3 641.7h0M862.8 642.6h0M863.3 643.3h0M863.8 644.0h0M864.3 644.6h0M864.8 645.1h0M865.3 645.6h0M865.8 646.0h0M866.3 646.4h0M866.8 646.7h0M867.3 647.0h0M867.8 647.3h0M868.3 647.5h0M868.8 647.7h0M869.3 647.7h0M869.8 648.1h0M870.3 648.1h0M871.3 648.6h0M872.3 648.9h0M873.3 649.1h0M874.3 649.5h0M875.3 649.5h0M876.3 649.6h0M877.3 649.7h0M878.3 649.8h0M879.3 650.0h0M880.3 650.1h0M881.3 649.9h0M882.3 650.2h0M883.3 650.2h0M884.3 650.3h0M885.3 650.3h0M886.3 650.2h0M887.3 650.2h0M888.3 650.6h0M889.3 650.5h0M890.3 650.3h0M891.3 650.5h0M892.3 650.5h0M893.3 650.3h0M894.3 650.3h0M895.3 650.4h0M896.3 650.6h0M897.3 650.6h0M898.3 650.6h0M899.3 650.7h0M900.3 650.7h0M901.3 650.4h0M902.3 650.7h0M903.3 650.6h0M904.3 650.6h0M905.3 650.7h0M906.3 650.7h0M907.3 650.7h0M908.3 650.6h0M909.3 650.7h0M910.3 651.0h0M911.3 650.7h0M912.3 650.6h0M913.3 650.8h0M914.3 650.9h0M915.3 650.9h0M916.3 650.7h0M917.3 650.9h0M918.3 650.7h0M919.3 650.7h0M920.3 650.8h0M921.3 650.8h0M922.3 650.9h0M923.3 650.9h0M924.3 650.9h0M925.3 651.0h0M926.3 650.9h0M927.3 651.0h0M928.3 650.7h0M929.3 650.7h0M930.3 651.0h0M931.3 650.7h0M932.3 650.9h0M933.3 650.9h0M934.3 650.8h0M935.3 650.8h0M936.3 651.1h0M937.3 650.6h0M938.3 651.0h0M939.3 651.2h0M940.3 650.9h0M941.3 650.9h0M942.3 651.0h0M943.3 651.1h0M944.3 650.8h0M945.3 650.9h0M946.3 650.9h0M947.3 651.0h0M948.3 650.9h0M949.3 651.0h0M950.3 650.9h0M951.3 650.9h0M952.3 650.8h0M953.3 650.9h0M954.3 650.9h0M955.3 650.9h0M956.3 650.8h0M957.3 651.1h0M958.3 650.9h0M959.3 650.8h0M960.3 651.1h0M961.3 650.9h0M962.3 651.0h0M963.3 650.9h0M964.3 651.0h0M965.3 651.0h0M966.3 650.9h0M967.3 651.0h0M968.3 651.2h0M969.3 650.7h0M970.3 651.0h0M971.3 651.0h0M972.3 650.8h0M973.3 650.8h0M974.3 651.2h0M975.3 650.9h0M976.3 651.2h0M977.3 651.0h0M978.3 651.0h0M979.3 651.0h0M980.3 651.0h0M981.3 651.1h0M982.3 651.0h0M983.3 651.0h0M984.3 651.0h0M985.3 651.1h0M986.3 651.1h0M987.3 650.8h0M988.3 650.9h0M989.3 651.0h0M990.3 650.9h0M991.3 650.9h0M992.3 650.9h0M993.3 650.9h0M994.3 651.0h0M995.3 651.1h0M996.3 651.0h0" fill="none" stroke="#ff00ff" stroke-width="8.70" stroke-linecap="round"/>
<path d="M126.8 651.5L127.8 651.3L128.8 651.6L129.8 651.4L130.8 651.3L131.8 651.2L132.8 651.0L133.8 651.3L134.8 651.3L135.8 651.5L136.8 651.2L137.8 651.5L138.8 651.3L139.8 651.4L140.8 651.0L141.8 651.3L142.8 651.3L143.8 651.4L144.8 651.3L145.8 651.2L146.8 651.4L147.8 651.4L148.8 651.4L149.8 651.4L150.8 651.4L151.8 651.3L152.8 651.2L153.8 651.2L154.8 651.4L155.8 651.4L156.8 651.3L157.8 651.3L158.8 651.3L159.8 651.3L160.8 651.3L161.8 651.2L162.8 651.5L163.8 651.3L164.8 651.2L165.8 651.2L166.8 651.2L167.8 651.4L168.8 651.4L169.8 651.3L170.8 651.3L171.8 651.3L172.8 651.2L173.8 651.4L174.8 651.3L175.8 651.5L176.8 651.2L177.8 651.3L178.8 651.4L179.8 651.3L180.8 651.2L181.8 651.2L182.8 651.3L183.8 651.3L184.8 651.3L185.8 651.4L186.8 651.4L187.8 651.3L188.8 651.3L189.8 651.3L190.8 651.4L191.8 651.4L192.8 651.3L193.8 651.3L194.8 651.3L195.8 651.2L196.8 651.2L197.8 651.4L198.8 651.3L199.8 651.5L200.8 651.3L201.8 651.4L202.8 651.4L203.8 651.4L204.8 651.2L205.8 651.3L206.8 651.3L207.8 651.2L208.8 651.3L209.8 651.4L210.8 651.3L211.8 651.5L212.8 651.3L213.8 651.3L214.8 651.3L215.8 651.2L216.8 651.3L217.8 651.3L218.8 651.5L219.8 651.4L220.8 651.4L221.8 651.3L222.8 651.2L223.8 651.3L224.8 651.2L225.8 651.4L226.8 651.3L227.8 651.5L228.8 651.4L229.8 651.4L230.8 651.3L231.8 651.3L232.8 651.4L233.8 651.4L234.8 651.2L235.8 651.3L236.8 651.6L237.8 651.3L238.8 651.3L239.8 651.2L240.8 651.2L241.8 651.4L242.8 651.3L243.8 651.3L244.8 651.5L245.8 651.5L246.8 651.2L247.8 651.4L248.8 651.4L249.8 651.3L250.8 651.3L251.8 651.3L252.8 651.5L253.8 651.4L254.8 651.3L255.8 651.4L256.8 651.4L257.8 651.3L258.8 651.3L259.8 651.5L260.8 651.3L261.8 651.3L262.8 651.2L263.8 651.3L264.8 651.2L265.8 651.3L266.8 651.3L267.8 651.1L268.8 651.3L269.8 651.4L270.8 651.3L271.8 651.2L272.8 651.4L273.8 651.2L274.8 651.2L275.8 651.2L276.8 651.3L277.8 651.4L278.8 651.4L279.8 651.3L280.8 651.2L281.8 651.2L282.8 651.2L283.8 651.3L284.8 651.1L285.8 651.3L286.8 651.4L287.8 651.3L288.8 651.3L289.8 651.2L290.8 651.2L291.8 651.2L292.8 651.4L293.8 651.4L294.8 651.3L295.8 651.4L296.8 651.3L297.8 651.4L298.8 651.3L299.8 651.3L300.8 651.4L301.8 651.2L302.8 651.2L303.8 651.2L304.8 651.3L305.8 651.3L306.8 651.3L307.8 651.3L308.8 651.4L309.8 651.3L310.8 651.2L311.8 651.4L312.8 651.4L313.8 651.3L314.8 651.1L315.8 651.2L316.8 651.4L317.8 651.3L318.8 651.5L319.8 651.2L320.8 651.4L321.8 651.2L322.8 651.4L323.8 651.3L324.8 651.4L325.8 651.2L326.8 651.2L327.8 651.2L328.8 651.2L329.8 651.2L330.8 651.4L331.8 651.4L332.8 651.3L333.8 651.2L334.8 651.3L335.8 651.2L336.8 651.4L337.8 651.3L338.8 651.3L339.8 651.3L340.8 651.1L341.8 651.2L342.8 651.2L343.8 651.3L344.8 651.3L345.8 651.2L346.8 651.3L347.8 651.5L348.8 651.2L349.8 651.2L350.8 651.3L351.8 651.2L352.8 651.3L353.8 651.4L354.8 651.5L355.8 651.1L356.8 651.3L357.8 651.3L358.8 651.3L359.8 651.3L360.8 651.3L361.8 651.4L362.8 651.3L363.8 651.3L364.8 651.3L365.8 651.3L366.8 651.3L367.8 651.4L368.8 651.3L369.8 651.3L370.8 651.3L371.8 651.2L372.8 651.2L373.8 651.2L374.8 651.3L375.8 651.2L376.8 651.2L377.8 651.3L378.8 651.3L379.8 651.1L380.8 651.5L381.8 651.3L382.8 651.3L383.8 651.4L384.8 651.3L385.8 651.2L386.8 651.5L387.8 651.2L388.8 651.3L389.8 651.4L390.8 651.2L391.8 651.3L392.8 651.3L393.8 651.5L394.8 651.2L395.8 651.3L396.8 651.4L397.8 651.3L398.8 651.2L399.8 651.3L400.8 651.3L401.8 651.3L402.8 651.4L403.8 651.4L404.8 651.3L405.8 651.3L406.8 651.2L407.8 651.3L408.8 651.3L409.8 651.3L410.8 651.3L411.8 651.2L412.8 651.5L413.8 651.5L414.8 651.3L415.8 651.3L416.8 651.3L417.8 651.4L418.8 651.3L419.8 651.3L420.8 651.3L421.8 651.3L422.8 651.2L423.8 651.4L424.8 651.2L425.8 651.3L426.8 651.3L427.8 651.4L428.8 651.3L429.8 651.4L430.8 651.2L431.8 651.4L432.8 651.3L433.8 651.3L434.8 651.3L435.8 651.4L436.8 651.1L437.8 651.3L438.8 651.1L439.8 651.4L440.8 651.1L441.8 651.2L442.8 651.1L443.8 651.5L444.8 651.2L445.8 651.3L446.8 651.2L447.8 651.1L448.8 651.3L449.8 651.4L450.8 651.3L451.8 651.4L452.8 651.3L453.8 651.3L454.8 651.3L455.8 651.3L456.8 651.5L457.8 651.3L458.8 651.3L459.8 651.2L460.8 651.2L461.8 651.4L462.8 651.2L463.8 651.2L464.8 651.3L465.8 651.3L466.8 651.5L467.8 651.1L468.8 651.3L469.8 651.4L470.8 651.2L471.8 651.2L472.8 651.3L473.8 651.5L474.8 651.2L475.8 651.1L476.8 651.4L477.8 651.4L478.8 651.3L479.8 651.1L480.8 651.4L481.8 651.3L482.8 651.4L483.8 651.3L484.8 651.3L485.8 651.3L486.8 651.4L487.8 651.4L488.8 651.1L489.8 651.2L490.8 651.5L491.8 651.3L492.8 651.2L493.8 651.3L494.8 651.3L495.8 651.3L496.8 651.2L497.8 651.3L498.8 651.2L499.8 651.3L500.8 651.2L501.8 651.3L502.8 651.3L503.8 651.4L504.8 651.3L505.8 651.3L506.8 651.3L507.8 651.3L508.8 651.4L509.8 651.3L510.8 651.5L511.8 651.4L512.8 651.3L513.8 651.3L514.8 651.4L515.8 651.3L516.8 651.3L517.8 651.1L518.8 651.1L519.8 651.3L520.8 651.4L521.8 651.4L522.8 651.2L523.8 651.4L524.8 651.2L525.8 651.3L526.8 651.3L527.8 651.2L528.8 651.2L529.8 651.1L530.8 651.2L531.8 651.1L532.8 651.3L533.8 651.3L534.8 651.4L535.8 651.3L536.8 651.2L537.8 651.3L538.8 651.3L539.8 651.4L540.8 651.3L541.8 651.2L542.8 651.3L543.8 651.3L544.8 651.3L545.8 651.4L546.8 651.5L547.8 651.3L548.8 651.3L549.8 651.1L550.8 651.3L551.8 651.2L552.8 651.1L553.8 651.3L554.8 651.4L555.8 651.2L556.8 651.3L557.8 651.2L558.8 651.4L559.8 651.1L560.8 651.3L561.8 651.5L562.8 651.3L563.8 651.3L564.8 651.3L565.8 651.2L566.8 651.3L567.8 651.3L568.8 651.2L569.8 651.3L570.8 651.4L571.8 651.4L572.8 651.1L573.8 651.2L574.8 651.1L575.8 651.4L576.8 651.4L577.8 651.4L578.8 651.2L579.8 651.2L580.8 651.3L581.8 651.3L582.8 651.2L583.8 651.3L584.8 651.4L585.8 651.3L586.8 651.2L587.8 651.1L588.8 651.3L589.8 651.3L590.8 651.3L591.8 651.2L592.8 651.2L593.8 651.4L594.8 651.3L595.8 651.3L596.8 651.2L597.8 651.2L598.8 651.3L599.8 651.2L600.8 651.2L601.8 651.3L602.8 651.4L603.8 651.3L604.8 651.4L605.8 651.3L606.8 651.3L607.8 651.2L608.8 651.2L609.8 651.4L610.8 651.3L611.8 651.4L612.8 651.4L613.8 651.3L614.8 651.3L615.8 651.3L616.8 651.4L617.8 651.3L618.8 651.3L619.8 651.3L620.8 651.2L621.8 651.3L622.8 651.2L623.8 651.4L624.8 651.1L625.8 651.3L626.8 651.5L627.8 651.3L628.8 651.2L629.8 651.3L630.8 651.4L631.8 651.3L632.8 651.3L633.8 651.3L634.8 651.2L635.8 651.6L636.8 651.3L637.8 651.2L638.8 651.2L639.8 651.3L640.8 651.3L641.8 651.4L642.8 651.3L643.8 651.1L644.8 651.3L645.8 651.3L646.8 651.3L647.8 651.1L648.8 651.2L649.8 651.2L650.8 651.3L651.8 651.1L652.8 651.3L653.8 651.3L654.8 651.2L655.8 651.2L656.8 651.2L657.8 651.4L658.8 651.0L659.8 651.2L660.8 651.1L661.8 651.2L662.8 651.4L663.8 651.2L664.8 651.3L665.8 651.2L666.8 651.5L667.8 651.4L668.8 651.4L669.8 651.1L670.8 651.2L671.8 651.4L672.8 651.3L673.8 651.3L674.8 651.3L675.8 651.2L676.8 651.4L677.8 651.3L678.8 651.3L679.8 651.2L680.8 651.3L681.8 651.2L682.8 651.4L683.8 651.4L684.8 651.4L685.8 651.3L686.8 651.3L687.8 651.0L688.8 651.4L689.8 651.2L690.8 651.3L691.8 651.2L692.8 651.1L693.8 651.2L694.8 651.3L695.8 651.4L696.8 651.2L697.8 651.2L698.8 651.4L699.8 651.2L700.8 651.5L701.8 651.3L702.8 651.2L703.8 651.4L704.8 651.4L705.8 651.1L706.8 651.4L707.8 651.2L708.8 651.4L709.8 651.2L710.8 651.1L711.8 651.3L712.8 651.4L713.8 651.5L714.8 651.4L715.8 651.3L716.8 651.2L717.8 651.2L718.8 651.2L719.8 651.2L720.8 651.2L721.8 651.0L722.8 651.3L723.8 651.3L724.8 651.5L725.8 651.3L726.8 651.2L727.8 651.3L728.8 651.1L729.8 651.2L730.8 651.1L731.8 651.4L732.8 651.3L733.8 651.1L734.8 651.2L735.8 651.3L736.8 651.3L737.8 651.3L738.8 651.2L739.8 651.2L740.8 651.3L741.8 651.3L742.8 651.2L743.8 651.1L744.8 651.4L745.8 651.2L746.8 651.4L747.8 651.3L748.8 651.3L749.8 651.4L750.8 651.3L751.8 651.3L752.8 651.1L753.8 651.2L754.8 651.3L755.8 651.4L756.8 651.4L757.8 651.5L758.8 651.3L759.8 651.3L760.8 651.3L761.8 651.2L762.8 651.2L763.8 651.1L764.8 651.3L765.8 651.1L766.8 651.3L767.8 651.1L768.8 651.3L769.8 651.1L770.8 651.3L771.8 651.0L772.8 651.2L773.8 651.3L774.8 651.1L775.8 651.2L776.8 651.1L777.8 651.0L778.8 651.2L779.8 651.2L780.8 651.1L781.8 651.2L782.8 651.1L783.8 651.1L784.8 651.2L785.8 651.1L786.8 651.4L787.8 651.0L788.8 651.2L789.8 651.3L790.8 651.0L791.8 651.0L792.8 651.2L793.8 651.1L794.8 651.2L795.8 651.2L796.8 651.1L797.8 651.0L798.8 650.8L799.8 651.1L800.8 651.0L801.8 651.1L802.8 651.1L803.8 650.9L804.8 651.2L805.8 651.2L806.8 651.1L807.8 650.9L808.8 651.0L809.8 650.9L810.8 650.9L811.8 650.9L812.8 651.0L813.8 651.0L814.8 651.0L815.8 650.9L816.8 651.0L817.8 650.9L818.8 650.6L819.8 650.8L820.8 650.8L821.8 650.9L822.8 650.7L823.8 650.7L824.8 650.6L825.8 650.7L826.8 650.5L827.8 650.5L828.8 650.4L829.8 650.5L830.8 650.3L831.8 650.1L832.8 650.2L833.8 650.0L834.8 650.0L835.8 649.9L836.8 649.8L837.8 649.6L838.8 649.3L839.8 649.1L840.8 648.7L841.8 648.7L842.8 648.3L843.3 648.1L843.8 647.8L844.3 647.3L844.8 647.4L845.3 647.0L845.8 646.6L846.3 646.3L846.8 645.9L847.3 645.4L847.8 644.7L848.3 644.3L848.8 643.5L849.3 642.7L849.8 642.0L850.3 640.9L850.8 639.5L851.3 637.9L851.8 636.3L852.3 634.1L852.8 631.4L853.3 627.9L853.8 623.9L854.3 619.1L854.8 614.1L855.3 609.6L855.8 606.9L856.3 607.0L856.8 610.3L857.3 615.2L857.8 620.2L858.3 624.9L858.8 629.0L859.3 632.0L859.8 634.6L860.3 636.6L860.8 638.4L861.3 639.6L861.8 641.0L862.3 642.2L862.8 643.1L863.3 643.8L863.8 644.4L864.3 644.9L864.8 645.4L865.3 645.9L865.8 646.4L866.3 646.6L866.8 647.1L867.3 647.2L867.8 647.4L868.3 647.7L868.8 647.9L869.3 648.1L869.8 648.5L870.3 648.6L871.3 648.9L872.3 649.3L873.3 649.5L874.3 649.5L875.3 649.8L876.3 649.9L877.3 650.0L878.3 650.1L879.3 650.0L880.3 650.2L881.3 650.3L882.3 650.5L883.3 650.4L884.3 650.5L885.3 650.7L886.3 650.8L887.3 650.7L888.3 650.8L889.3 650.7L890.3 650.7L891.3 650.8L892.3 650.8L893.3 650.8L894.3 651.0L895.3 650.9L896.3 650.8L897.3 651.0L898.3 651.1L899.3 651.0L900.3 651.1L901.3 650.9L902.3 651.0L903.3 650.9L904.3 651.0L905.3 651.2L906.3 650.9L907.3 651.2L908.3 651.0L909.3 651.1L910.3 651.2L911.3 651.2L912.3 651.1L913.3 650.9L914.3 651.1L915.3 651.0L916.3 651.4L917.3 651.1L918.3 651.2L919.3 651.0L920.3 651.1L921.3 651.0L922.3 651.3L923.3 651.1L924.3 651.2L925.3 651.1L926.3 651.1L927.3 651.3L928.3 651.1L929.3 651.0L930.3 651.2L931.3 651.1L932.3 651.1L933.3 651.3L934.3 651.1L935.3 651.3L936.3 651.1L937.3 651.4L938.3 651.3L939.3 651.2L940.3 651.2L941.3 651.1L942.3 651.2L943.3 651.3L944.3 651.1L945.3 651.3L946.3 651.1L947.3 651.1L948.3 651.0L949.3 651.4L950.3 651.2L951.3 651.3L952.3 651.2L953.3 651.3L954.3 651.0L955.3 651.2L956.3 651.5L957.3 651.2L958.3 651.2L959.3 651.3L960.3 651.2L961.3 651.2L962.3 651.3L963.3 651.3L964.3 651.3L965.3 651.2L966.3 651.3L967.3 651.3L968.3 651.4L969.3 651.3L970.3 651.2L971.3 651.0L972.3 651.3L973.3 651.3L974.3 651.2L975.3 651.1L976.3 651.1L977.3 651.3L978.3 651.2L979.3 651.2L980.3 651.3L981.3 651.4L982.3 651.3L983.3 651.2L984.3 651.2L985.3 651.4L986.3 651.4L987.3 651.3L988.3 651.1L989.3 651.2L990.3 651.3L991.3 651.2L992.3 651.4L993.3 651.3L994.3 651.3L995.3 651.3L996.3 651.3" fill="none" stroke="#000000" stroke-width="1.4" stroke-linejoin="round"/>
<path d="M126.8 651.5h0M127.8 651.3h0M128.8 651.6h0M129.8 651.4h0M130.8 651.3h0M131.8 651.2h0M132.8 651.0h0M133.8 651.3h0M134.8 651.3h0M135.8 651.5h0M136.8 651.2h0M137.8 651.5h0M138.8 651.3h0M139.8 651.4h0M140.8 651.0h0M141.8 651.3h0M142.8 651.3h0M143.8 651.4h0M144.8 651.3h0M145.8 651.2h0M146.8 651.4h0M147.8 651.4h0M148.8 651.4h0M149.8 651.4h0M150.8 651.4h0M151.8 651.3h0M152.8 651.2h0M153.8 651.2h0M154.8 651.4h0M155.8 651.4h0M156.8 651.3h0M157.8 651.3h0M158.8 651.3h0M159.8 651.3h0M160.8 651.3h0M161.8 651.2h0M162.8 651.5h0M163.8 651.3h0M164.8 651.2h0M165.8 651.2h0M166.8 651.2h0M167.8 651.4h0M168.8 651.4h0M169.8 651.3h0M170.8 651.3h0M171.8 651.3h0M172.8 651.2h0M173.8 651.4h0M174.8 651.3h0M175.8 651.5h0M176.8 651.2h0M177.8 651.3h0M178.8 651.4h0M179.8 651.3h0M180.8 651.2h0M181.8 651.2h0M182.8 651.3h0M183.8 651.3h0M184.8 651.3h0M185.8 651.4h0M186.8 651.4h0M187.8 651.3h0M188.8 651.3h0M189.8 651.3h0M190.8 651.4h0M191.8 651.4h0M192.8 651.3h0M193.8 651.3h0M194.8 651.3h0M195.8 651.2h0M196.8 651.2h0M197.8 651.4h0M198.8 651.3h0M199.8 651.5h0M200.8 651.3h0M201.8 651.4h0M202.8 651.4h0M203.8 651.4h0M204.8 651.2h0M205.8 651.3h0M206.8 651.3h0M207.8 651.2h0M208.8 651.3h0M209.8 651.4h0M210.8 651.3h0M211.8 651.5h0M212.8 651.3h0M213.8 651.3h0M214.8 651.3h0M215.8 651.2h0M216.8 651.3h0M217.8 651.3h0M218.8 651.5h0M219.8 651.4h0M220.8 651.4h0M221.8 651.3h0M222.8 651.2h0M223.8 651.3h0M224.8 651.2h0M225.8 651.4h0M226.8 651.3h0M227.8 651.5h0M228.8 651.4h0M229.8 651.4h0M230.8 651.3h0M231.8 651.3h0M232.8 651.4h0M233.8 651.4h0M234.8 651.2h0M235.8 651.3h0M236.8 651.6h0M237.8 651.3h0M238.8 651.3h0M239.8 651.2h0M240.8 651.2h0M241.8 651.4h0M242.8 651.3h0M243.8 651.3h0M244.8 651.5h0M245.8 651.5h0M246.8 651.2h0M247.8 651.4h0M248.8 651.4h0M249.8 651.3h0M250.8 651.3h0M251.8 651.3h0M252.8 651.5h0M253.8 651.4h0M254.8 651.3h0M255.8 651.4h0M256.8 651.4h0M257.8 651.3h0M258.8 651.3h0M259.8 651.5h0M260.8 651.3h0M261.8 651.3h0M262.8 651.2h0M263.8 651.3h0M264.8 651.2h0M265.8 651.3h0M266.8 651.3h0M267.8 651.1h0M268.8 651.3h0M269.8 651.4h0M270.8 651.3h0M271.8 651.2h0M272.8 651.4h0M273.8 651.2h0M274.8 651.2h0M275.8 651.2h0M276.8 651.3h0M277.8 651.4h0M278.8 651.4h0M279.8 651.3h0M280.8 651.2h0M281.8 651.2h0M282.8 651.2h0M283.8 651.3h0M284.8 651.1h0M285.8 651.3h0M286.8 651.4h0M287.8 651.3h0M288.8 651.3h0M289.8 651.2h0M290.8 651.2h0M291.8 651.2h0M292.8 651.4h0M293.8 651.4h0M294.8 651.3h0M295.8 651.4h0M296.8 651.3h0M297.8 651.4h0M298.8 651.3h0M299.8 651.3h0M300.8 651.4h0M301.8 651.2h0M302.8 651.2h0M303.8 651.2h0M304.8 651.3h0M305.8 651.3h0M306.8 651.3h0M307.8 651.3h0M308.8 651.4h0M309.8 651.3h0M310.8 651.2h0M311.8 651.4h0M312.8 651.4h0M313.8 651.3h0M314.8 651.1h0M315.8 651.2h0M316.8 651.4h0M317.8 651.3h0M318.8 651.5h0M319.8 651.2h0M320.8 651.4h0M321.8 651.2h0M322.8 651.4h0M323.8 651.3h0M324.8 651.4h0M325.8 651.2h0M326.8 651.2h0M327.8 651.2h0M328.8 651.2h0M329.8 651.2h0M330.8 651.4h0M331.8 651.4h0M332.8 651.3h0M333.8 651.2h0M334.8 651.3h0M335.8 651.2h0M336.8 651.4h0M337.8 651.3h0M338.8 651.3h0M339.8 651.3h0M340.8 651.1h0M341.8 651.2h0M342.8 651.2h0M343.8 651.3h0M344.8 651.3h0M345.8 651.2h0M346.8 651.3h0M347.8 651.5h0M348.8 651.2h0M349.8 651.2h0M350.8 651.3h0M351.8 651.2h0M352.8 651.3h0M353.8 651.4h0M354.8 651.5h0M355.8 651.1h0M356.8 651.3h0M357.8 651.3h0M358.8 651.3h0M359.8 651.3h0M360.8 651.3h0M361.8 651.4h0M362.8 651.3h0M363.8 651.3h0M364.8 651.3h0M365.8 651.3h0M366.8 651.3h0M367.8 651.4h0M368.8 651.3h0M369.8 651.3h0M370.8 651.3h0M371.8 651.2h0M372.8 651.2h0M373.8 651.2h0M374.8 651.3h0M375.8 651.2h0M376.8 651.2h0M377.8 651.3h0M378.8 651.3h0M379.8 651.1h0M380.8 651.5h0M381.8 651.3h0M382.8 651.3h0M383.8 651.4h0M384.8 651.3h0M385.8 651.2h0M386.8 651.5h0M387.8 651.2h0M388.8 651.3h0M389.8 651.4h0M390.8 651.2h0M391.8 651.3h0M392.8 651.3h0M393.8 651.5h0M394.8 651.2h0M395.8 651.3h0M396.8 651.4h0M397.8 651.3h0M398.8 651.2h0M399.8 651.3h0M400.8 651.3h0M401.8 651.3h0M402.8 651.4h0M403.8 651.4h0M404.8 651.3h0M405.8 651.3h0M406.8 651.2h0M407.8 651.3h0M408.8 651.3h0M409.8 651.3h0M410.8 651.3h0M411.8 651.2h0M412.8 651.5h0M413.8 651.5h0M414.8 651.3h0M415.8 651.3h0M416.8 651.3h0M417.8 651.4h0M418.8 651.3h0M419.8 651.3h0M420.8 651.3h0M421.8 651.3h0M422.8 651.2h0M423.8 651.4h0M424.8 651.2h0M425.8 651.3h0M426.8 651.3h0M427.8 651.4h0M428.8 651.3h0M429.8 651.4h0M430.8 651.2h0M431.8 651.4h0M432.8 651.3h0M433.8 651.3h0M434.8 651.3h0M435.8 651.4h0M436.8 651.1h0M437.8 651.3h0M438.8 651.1h0M439.8 651.4h0M440.8 651.1h0M441.8 651.2h0M442.8 651.1h0M443.8 651.5h0M444.8 651.2h0M445.8 651.3h0M446.8 651.2h0M447.8 651.1h0M448.8 651.3h0M449.8 651.4h0M450.8 651.3h0M451.8 651.4h0M452.8 651.3h0M453.8 651.3h0M454.8 651.3h0M455.8 651.3h0M456.8 651.5h0M457.8 651.3h0M458.8 651.3h0M459.8 651.2h0M460.8 651.2h0M461.8 651.4h0M462.8 651.2h0M463.8 651.2h0M464.8 651.3h0M465.8 651.3h0M466.8 651.5h0M467.8 651.1h0M468.8 651.3h0M469.8 651.4h0M470.8 651.2h0M471.8 651.2h0M472.8 651.3h0M473.8 651.5h0M474.8 651.2h0M475.8 651.1h0M476.8 651.4h0M477.8 651.4h0M478.8 651.3h0M479.8 651.1h0M480.8 651.4h0M481.8 651.3h0M482.8 651.4h0M483.8 651.3h0M484.8 651.3h0M485.8 651.3h0M486.8 651.4h0M487.8 651.4h0M488.8 651.1h0M489.8 651.2h0M490.8 651.5h0M491.8 651.3h0M492.8 651.2h0M493.8 651.3h0M494.8 651.3h0M495.8 651.3h0M496.8 651.2h0M497.8 651.3h0M498.8 651.2h0M499.8 651.3h0M500.8 651.2h0M501.8 651.3h0M502.8 651.3h0M503.8 651.4h0M504.8 651.3h0M505.8 651.3h0M506.8 651.3h0M507.8 651.3h0M508.8 651.4h0M509.8 651.3h0M510.8 651.5h0M511.8 651.4h0M512.8 651.3h0M513.8 651.3h0M514.8 651.4h0M515.8 651.3h0M516.8 651.3h0M517.8 651.1h0M518.8 651.1h0M519.8 651.3h0M520.8 651.4h0M521.8 651.4h0M522.8 651.2h0M523.8 651.4h0M524.8 651.2h0M525.8 651.3h0M526.8 651.3h0M527.8 651.2h0M528.8 651.2h0M529.8 651.1h0M530.8 651.2h0M531.8 651.1h0M532.8 651.3h0M533.8 651.3h0M534.8 651.4h0M535.8 651.3h0M536.8 651.2h0M537.8 651.3h0M538.8 651.3h0M539.8 651.4h0M540.8 651.3h0M541.8 651.2h0M542.8 651.3h0M543.8 651.3h0M544.8 651.3h0M545.8 651.4h0M546.8 651.5h0M547.8 651.3h0M548.8 651.3h0M549.8 651.1h0M550.8 651.3h0M551.8 651.2h0M552.8 651.1h0M553.8 651.3h0M554.8 651.4h0M555.8 651.2h0M556.8 651.3h0M557.8 651.2h0M558.8 651.4h0M559.8 651.1h0M560.8 651.3h0M561.8 651.5h0M562.8 651.3h0M563.8 651.3h0M564.8 651.3h0M565.8 651.2h0M566.8 651.3h0M567.8 651.3h0M568.8 651.2h0M569.8 651.3h0M570.8 651.4h0M571.8 651.4h0M572.8 651.1h0M573.8 651.2h0M574.8 651.1h0M575.8 651.4h0M576.8 651.4h0M577.8 651.4h0M578.8 651.2h0M579.8 651.2h0M580.8 651.3h0M581.8 651.3h0M582.8 651.2h0M583.8 651.3h0M584.8 651.4h0M585.8 651.3h0M586.8 651.2h0M587.8 651.1h0M588.8 651.3h0M589.8 651.3h0M590.8 651.3h0M591.8 651.2h0M592.8 651.2h0M593.8 651.4h0M594.8 651.3h0M595.8 651.3h0M596.8 651.2h0M597.8 651.2h0M598.8 651.3h0M599.8 651.2h0M600.8 651.2h0M601.8 651.3h0M602.8 651.4h0M603.8 651.3h0M604.8 651.4h0M605.8 651.3h0M606.8 651.3h0M607.8 651.2h0M608.8 651.2h0M609.8 651.4h0M610.8 651.3h0M611.8 651.4h0M612.8 651.4h0M613.8 651.3h0M614.8 651.3h0M615.8 651.3h0M616.8 651.4h0M617.8 651.3h0M618.8 651.3h0M619.8 651.3h0M620.8 651.2h0M621.8 651.3h0M622.8 651.2h0M623.8 651.4h0M624.8 651.1h0M625.8 651.3h0M626.8 651.5h0M627.8 651.3h0M628.8 651.2h0M629.8 651.3h0M630.8 651.4h0M631.8 651.3h0M632.8 651.3h0M633.8 651.3h0M634.8 651.2h0M635.8 651.6h0M636.8 651.3h0M637.8 651.2h0M638.8 651.2h0M639.8 651.3h0M640.8 651.3h0M641.8 651.4h0M642.8 651.3h0M643.8 651.1h0M644.8 651.3h0M645.8 651.3h0M646.8 651.3h0M647.8 651.1h0M648.8 651.2h0M649.8 651.2h0M650.8 651.3h0M651.8 651.1h0M652.8 651.3h0M653.8 651.3h0M654.8 651.2h0M655.8 651.2h0M656.8 651.2h0M657.8 651.4h0M658.8 651.0h0M659.8 651.2h0M660.8 651.1h0M661.8 651.2h0M662.8 651.4h0M663.8 651.2h0M664.8 651.3h0M665.8 651.2h0M666.8 651.5h0M667.8 651.4h0M668.8 651.4h0M669.8 651.1h0M670.8 651.2h0M671.8 651.4h0M672.8 651.3h0M673.8 651.3h0M674.8 651.3h0M675.8 651.2h0M676.8 651.4h0M677.8 651.3h0M678.8 651.3h0M679.8 651.2h0M680.8 651.3h0M681.8 651.2h0M682.8 651.4h0M683.8 651.4h0M684.8 651.4h0M685.8 651.3h0M686.8 651.3h0M687.8 651.0h0M688.8 651.4h0M689.8 651.2h0M690.8 651.3h0M691.8 651.2h0M692.8 651.1h0M693.8 651.2h0M694.8 651.3h0M695.8 651.4h0M696.8 651.2h0M697.8 651.2h0M698.8 651.4h0M699.8 651.2h0M700.8 651.5h0M701.8 651.3h0M702.8 651.2h0M703.8 651.4h0M704.8 651.4h0M705.8 651.1h0M706.8 651.4h0M707.8 651.2h0M708.8 651.4h0M709.8 651.2h0M710.8 651.1h0M711.8 651.3h0M712.8 651.4h0M713.8 651.5h0M714.8 651.4h0M715.8 651.3h0M716.8 651.2h0M717.8 651.2h0M718.8 651.2h0M719.8 651.2h0M720.8 651.2h0M721.8 651.0h0M722.8 651.3h0M723.8 651.3h0M724.8 651.5h0M725.8 651.3h0M726.8 651.2h0M727.8 651.3h0M728.8 651.1h0M729.8 651.2h0M730.8 651.1h0M731.8 651.4h0M732.8 651.3h0M733.8 651.1h0M734.8 651.2h0M735.8 651.3h0M736.8 651.3h0M737.8 651.3h0M738.8 651.2h0M739.8 651.2h0M740.8 651.3h0M741.8 651.3h0M742.8 651.2h0M743.8 651.1h0M744.8 651.4h0M745.8 651.2h0M746.8 651.4h0M747.8 651.3h0M748.8 651.3h0M749.8 651.4h0M750.8 651.3h0M751.8 651.3h0M752.8 651.1h0M753.8 651.2h0M754.8 651.3h0M755.8 651.4h0M756.8 651.4h0M757.8 651.5h0M758.8 651.3h0M759.8 651.3h0M760.8 651.3h0M761.8 651.2h0M762.8 651.2h0M763.8 651.1h0M764.8 651.3h0M765.8 651.1h0M766.8 651.3h0M767.8 651.1h0M768.8 651.3h0M769.8 651.1h0M770.8 651.3h0M771.8 651.0h0M772.8 651.2h0M773.8 651.3h0M774.8 651.1h0M775.8 651.2h0M776.8 651.1h0M777.8 651.0h0M778.8 651.2h0M779.8 651.2h0M780.8 651.1h0M781.8 651.2h0M782.8 651.1h0M783.8 651.1h0M784.8 651.2h0M785.8 651.1h0M786.8 651.4h0M787.8 651.0h0M788.8 651.2h0M789.8 651.3h0M790.8 651.0h0M791.8 651.0h0M792.8 651.2h0M793.8 651.1h0M794.8 651.2h0M795.8 651.2h0M796.8 651.1h0M797.8 651.0h0M798.8 650.8h0M799.8 651.1h0M800.8 651.0h0M801.8 651.1h0M802.8 651.1h0M803.8 650.9h0M804.8 651.2h0M805.8 651.2h0M806.8 651.1h0M807.8 650.9h0M808.8 651.0h0M809.8 650.9h0M810.8 650.9h0M811.8 650.9h0M812.8 651.0h0M813.8 651.0h0M814.8 651.0h0M815.8 650.9h0M816.8 651.0h0M817.8 650.9h0M818.8 650.6h0M819.8 650.8h0M820.8 650.8h0M821.8 650.9h0M822.8 650.7h0M823.8 650.7h0M824.8 650.6h0M825.8 650.7h0M826.8 650.5h0M827.8 650.5h0M828.8 650.4h0M829.8 650.5h0M830.8 650.3h0M831.8 650.1h0M832.8 650.2h0M833.8 650.0h0M834.8 650.0h0M835.8 649.9h0M836.8 649.8h0M837.8 649.6h0M838.8 649.3h0M839.8 649.1h0M840.8 648.7h0M841.8 648.7h0M842.8 648.3h0M843.3 648.1h0M843.8 647.8h0M844.3 647.3h0M844.8 647.4h0M845.3 647.0h0M845.8 646.6h0M846.3 646.3h0M846.8 645.9h0M847.3 645.4h0M847.8 644.7h0M848.3 644.3h0M848.8 643.5h0M849.3 642.7h0M849.8 642.0h0M850.3 640.9h0M850.8 639.5h0M851.3 637.9h0M851.8 636.3h0M852.3 634.1h0M852.8 631.4h0M853.3 627.9h0M853.8 623.9h0M854.3 619.1h0M854.8 614.1h0M855.3 609.6h0M855.8 606.9h0M856.3 607.0h0M856.8 610.3h0M857.3 615.2h0M857.8 620.2h0M858.3 624.9h0M858.8 629.0h0M859.3 632.0h0M859.8 634.6h0M860.3 636.6h0M860.8 638.4h0M861.3 639.6h0M861.8 641.0h0M862.3 642.2h0M862.8 643.1h0M863.3 643.8h0M863.8 644.4h0M864.3 644.9h0M864.8 645.4h0M865.3 645.9h0M865.8 646.4h0M866.3 646.6h0M866.8 647.1h0M867.3 647.2h0M867.8 647.4h0M868.3 647.7h0M868.8 647.9h0M869.3 648.1h0M869.8 648.5h0M870.3 648.6h0M871.3 648.9h0M872.3 649.3h0M873.3 649.5h0M874.3 649.5h0M875.3 649.8h0M876.3 649.9h0M877.3 650.0h0M878.3 650.1h0M879.3 650.0h0M880.3 650.2h0M881.3 650.3h0M882.3 650.5h0M883.3 650.4h0M884.3 650.5h0M885.3 650.7h0M886.3 650.8h0M887.3 650.7h0M888.3 650.8h0M889.3 650.7h0M890.3 650.7h0M891.3 650.8h0M892.3 650.8h0M893.3 650.8h0M894.3 651.0h0M895.3 650.9h0M896.3 650.8h0M897.3 651.0h0M898.3 651.1h0M899.3 651.0h0M900.3 651.1h0M901.3 650.9h0M902.3 651.0h0M903.3 650.9h0M904.3 651.0h0M905.3 651.2h0M906.3 650.9h0M907.3 651.2h0M908.3 651.0h0M909.3 651.1h0M910.3 651.2h0M911.3 651.2h0M912.3 651.1h0M913.3 650.9h0M914.3 651.1h0M915.3 651.0h0M916.3 651.4h0M917.3 651.1h0M918.3 651.2h0M919.3 651.0h0M920.3 651.1h0M921.3 651.0h0M922.3 651.3h0M923.3 651.1h0M924.3 651.2h0M925.3 651.1h0M926.3 651.1h0M927.3 651.3h0M928.3 651.1h0M929.3 651.0h0M930.3 651.2h0M931.3 651.1h0M932.3 651.1h0M933.3 651.3h0M934.3 651.1h0M935.3 651.3h0M936.3 651.1h0M937.3 651.4h0M938.3 651.3h0M939.3 651.2h0M940.3 651.2h0M941.3 651.1h0M942.3 651.2h0M943.3 651.3h0M944.3 651.1h0M945.3 651.3h0M946.3 651.1h0M947.3 651.1h0M948.3 651.0h0M949.3 651.4h0M950.3 651.2h0M951.3 651.3h0M952.3 651.2h0M953.3 651.3h0M954.3 651.0h0M955.3 651.2h0M956.3 651.5h0M957.3 651.2h0M958.3 651.2h0M959.3 651.3h0M960.3 651.2h0M961.3 651.2h0M962.3 651.3h0M963.3 651.3h0M964.3 651.3h0M965.3 651.2h0M966.3 651.3h0M967.3 651.3h0M968.3 651.4h0M969.3 651.3h0M970.3 651.2h0M971.3 651.0h0M972.3 651.3h0M973.3 651.3h0M974.3 651.2h0M975.3 651.1h0M976.3 651.1h0M977.3 651.3h0M978.3 651.2h0M979.3 651.2h0M980.3 651.3h0M981.3 651.4h0M982.3 651.3h0M983.3 651.2h0M984.3 651.2h0M985.3 651.4h0M986.3 651.4h0M987.3 651.3h0M988.3 651.1h0M989.3 651.2h0M990.3 651.3h0M991.3 651.2h0M992.3 651.4h0M993.3 651.3h0M994.3 651.3h0M995.3 651.3h0M996.3 651.3h0" fill="none" stroke="#000000" stroke-width="8.70" stroke-linecap="round"/>
</g>
<text transform="translate(108.5 658.0) scale(0.980 1)" text-anchor="end" font-size="33">0</text>
<text transform="translate(108.5 568.4) scale(0.980 1)" text-anchor="end" font-size="33">200</text>
<text transform="translate(108.5 478.8) scale(0.980 1)" text-anchor="end" font-size="33">400</text>
<text transform="translate(108.5 389.1) scale(0.980 1)" text-anchor="end" font-size="33">600</text>
<text transform="translate(108.5 299.5) scale(0.980 1)" text-anchor="end" font-size="33">800</text>
<text transform="translate(108.5 209.9) scale(0.980 1)" text-anchor="end" font-size="33">1000</text>
<text transform="translate(108.5 120.3) scale(0.980 1)" text-anchor="end" font-size="33">1200</text>
<text transform="translate(108.5 30.7) scale(0.980 1)" text-anchor="end" font-size="33">1400</text>
<text transform="translate(129.8 704.5) scale(0.980 1)" text-anchor="middle" font-size="33">100</text>
<text transform="translate(216.2 704.5) scale(0.980 1)" text-anchor="middle" font-size="33">150</text>
<text transform="translate(302.6 704.5) scale(0.980 1)" text-anchor="middle" font-size="33">200</text>
<text transform="translate(388.9 704.5) scale(0.980 1)" text-anchor="middle" font-size="33">250</text>
<text transform="translate(475.3 704.5) scale(0.980 1)" text-anchor="middle" font-size="33">300</text>
<text transform="translate(561.7 704.5) scale(0.980 1)" text-anchor="middle" font-size="33">350</text>
<text transform="translate(648.1 704.5) scale(0.980 1)" text-anchor="middle" font-size="33">400</text>
<text transform="translate(734.5 704.5) scale(0.980 1)" text-anchor="middle" font-size="33">450</text>
<text transform="translate(820.8 704.5) scale(0.980 1)" text-anchor="middle" font-size="33">500</text>
<text transform="translate(907.2 704.5) scale(0.980 1)" text-anchor="middle" font-size="33">550</text>
<text transform="translate(993.6 704.5) scale(0.980 1)" text-anchor="middle" font-size="33">600</text>

<text x="438.0" y="750.5" font-size="31.5" textLength="221.4" lengthAdjust="spacingAndGlyphs">Raman shift (cm</text>
<text x="659.8" y="730.5" font-size="19">-1</text>
<text x="676.0" y="750.5" font-size="31.5">)</text>
<text transform="translate(33.2,530.8) rotate(-90)" font-size="31.5" textLength="366.2" lengthAdjust="spacingAndGlyphs">Normalized Intensity (a.u.)</text>


<text x="239.8" y="57.4" font-size="32.5" textLength="23.2" lengthAdjust="spacingAndGlyphs">A</text>
<text x="263.6" y="72.1" font-size="19" textLength="20.6" lengthAdjust="spacingAndGlyphs">1g</text>
<text x="193.4" y="577.7" font-size="33.5" textLength="18.3" lengthAdjust="spacingAndGlyphs">E</text>
<text x="211.3" y="593.2" font-size="19" textLength="11.6" lengthAdjust="spacingAndGlyphs">g</text>
<text x="838.5" y="552.5" font-size="33.6" textLength="27.6" lengthAdjust="spacingAndGlyphs">Si</text>

<line x1="291.5" y1="38.7" x2="291.5" y2="53.5" stroke="#000" stroke-width="1.45"/><path d="M286.9 52.5L296.1 52.5L291.5 70.4Z" fill="#000"/><line x1="206.4" y1="590.6" x2="206.4" y2="605.4" stroke="#000" stroke-width="1.45"/><path d="M201.8 604.4L211.0 604.4L206.4 622.3Z" fill="#000"/><line x1="854.6" y1="567.8" x2="854.6" y2="581.9" stroke="#000" stroke-width="1.45"/><path d="M850.0 580.9L859.2 580.9L854.6 599.3Z" fill="#000"/>
<rect x="729.4" y="58.2" width="222.4" height="286.2" fill="#fff" stroke="#000" stroke-width="1.7"/>
<text x="737.6" y="97.2" font-size="31" font-weight="bold" textLength="60.8" lengthAdjust="spacingAndGlyphs">ZrSe</text>
<text x="799.6" y="109.6" font-size="19" font-weight="bold" textLength="9.4" lengthAdjust="spacingAndGlyphs">2</text>
<text x="816.4" y="97.2" font-size="31" font-weight="bold" textLength="123.8" lengthAdjust="spacingAndGlyphs">on Si/SiO</text>
<text x="940.8" y="111.0" font-size="18.5" font-weight="bold" textLength="8.6" lengthAdjust="spacingAndGlyphs">2</text>
<line x1="736.3" y1="142.7" x2="760.6" y2="142.7" stroke="#800000" stroke-width="1.4"/>
<line x1="784.0" y1="142.7" x2="807.8" y2="142.7" stroke="#800000" stroke-width="1.4"/>
<circle cx="772.0" cy="142.7" r="4.85" fill="#800000"/>
<text transform="translate(813.6 153.9) scale(1.03 1)" font-size="31.5">48 L</text>
<line x1="736.3" y1="188.0" x2="760.6" y2="188.0" stroke="#00ffff" stroke-width="1.4"/>
<line x1="784.0" y1="188.0" x2="807.8" y2="188.0" stroke="#00ffff" stroke-width="1.4"/>
<circle cx="772.0" cy="188.0" r="4.85" fill="#00ffff"/>
<text transform="translate(813.6 199.2) scale(1.03 1)" font-size="31.5">14 L</text>
<line x1="736.3" y1="233.6" x2="760.6" y2="233.6" stroke="#00ff00" stroke-width="1.4"/>
<line x1="784.0" y1="233.6" x2="807.8" y2="233.6" stroke="#00ff00" stroke-width="1.4"/>
<circle cx="772.0" cy="233.6" r="4.85" fill="#00ff00"/>
<text transform="translate(813.6 244.8) scale(1.03 1)" font-size="31.5">9 L</text>
<line x1="736.3" y1="279.0" x2="760.6" y2="279.0" stroke="#ff00ff" stroke-width="1.4"/>
<line x1="784.0" y1="279.0" x2="807.8" y2="279.0" stroke="#ff00ff" stroke-width="1.4"/>
<circle cx="772.0" cy="279.0" r="4.85" fill="#ff00ff"/>
<text transform="translate(813.6 290.2) scale(1.03 1)" font-size="31.5">5 L</text>
<line x1="736.3" y1="324.5" x2="760.6" y2="324.5" stroke="#000000" stroke-width="1.4"/>
<line x1="784.0" y1="324.5" x2="807.8" y2="324.5" stroke="#000000" stroke-width="1.4"/>
<circle cx="772.0" cy="324.5" r="4.85" fill="#000000"/>
<text transform="translate(813.6 335.7) scale(1.03 1)" font-size="31.5">Si</text>
</svg>
</body></html>
